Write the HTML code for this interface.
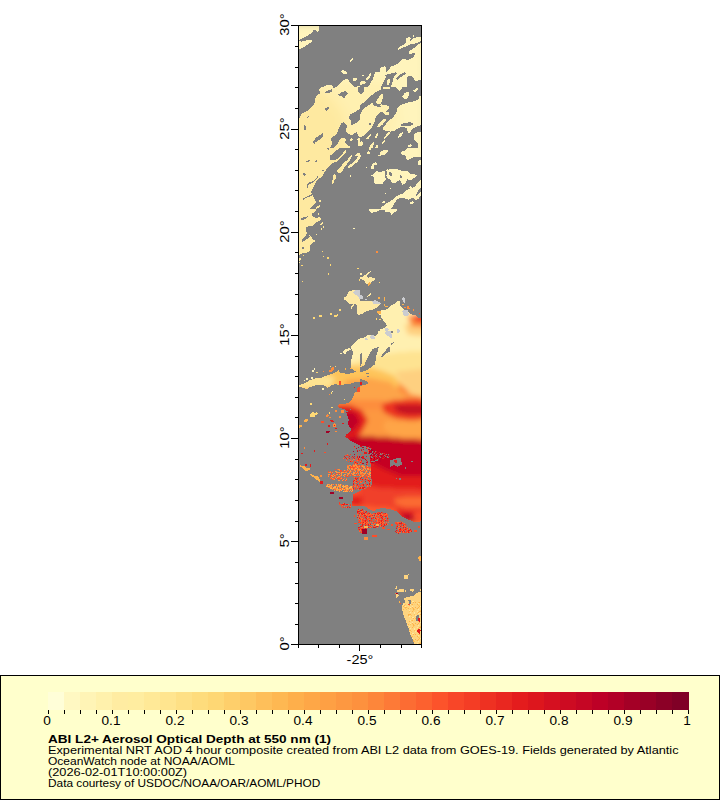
<!DOCTYPE html>
<html><head><meta charset="utf-8"><style>
*{margin:0;padding:0;box-sizing:border-box}
html,body{width:720px;height:800px;background:#fff;overflow:hidden}
body{position:relative;font-family:"Liberation Sans",sans-serif;color:#000}

.a{position:absolute;white-space:nowrap}
.lab{position:absolute;font-size:12.5px;line-height:1;white-space:nowrap}
.rot{position:absolute;width:40px;height:13px;font-size:12.5px;line-height:13px;text-align:center;white-space:nowrap;transform-origin:50% 50%;transform:rotate(-90deg) scaleX(1.18)}
#legend{position:absolute;left:0;top:675px;width:720px;height:125px;background:#ffffcc;border:1px solid #000}
.t{position:absolute;left:48px;font-size:11px;line-height:11px;white-space:nowrap;transform-origin:0 0}
</style></head><body>

<svg class="a" style="left:0;top:0" width="720" height="670" viewBox="0 0 720 670" shape-rendering="crispEdges">
<rect x="299" y="26" width="122" height="618" fill="#808080"/>
<defs><clipPath id="dc"><rect x="299" y="26" width="122" height="618"/></clipPath><filter id="bl" x="-5%" y="-5%" width="110%" height="110%"><feGaussianBlur stdDeviation="2.5"/></filter><pattern id="pf" patternUnits="userSpaceOnUse" x="0" y="0" width="720" height="800"><g filter="url(#bl)"><polygon fill="#fd8d3c" points="290,270 430,270 430,560 290,560"/><polygon fill="#fff0b0" points="290,270 430,270 430,350 400,352 380,355 360,360 345,366 290,372"/><polygon fill="#fee391" points="345,366 360,360 380,355 400,352 430,350 430,396 410,392 395,378 380,372 365,370 350,372"/><polygon fill="#fed080" points="395,372 430,368 430,398 410,394"/><polygon fill="#fec45a" points="290,372 345,366 365,366 380,370 395,376 400,386 390,392 370,392 350,392 340,390 290,392"/><polygon fill="#fee391" points="290,374 320,373 335,378 330,388 290,390"/><polygon fill="#fda448" points="345,380 370,378 390,382 400,392 410,398 430,400 430,405 400,403 380,400 360,400 345,398"/><polygon fill="#fed080" points="404,324 430,322 430,337 408,335"/><polygon fill="#fd8d3c" points="407,316 430,312 430,328 412,327"/><polygon fill="#f0402a" points="413,315 430,313 430,323 416,322"/><polygon fill="#fd9841" points="290,410 430,410 430,438 290,438"/><polygon fill="#ec3423" points="382,404 395,400 410,399 430,400 430,419 408,420 395,418 383,412"/><polygon fill="#c20a24" points="394,406 403,404.5 413,405 430,406 430,413.5 410,414.5 401,413 395,410"/><polygon fill="#fea547" points="385,421 405,422 430,421 430,436 405,437 390,434 383,428"/><polygon fill="#e31a1c" points="335,405 350,405 362,410 368,420 362,432 352,442 340,445 332,440"/><polygon fill="#c00526" points="343,412 355,412 360,422 352,432 345,430"/><polygon fill="#c50624" points="345,437 365,436 385,437 405,439 430,440 430,476 400,476 385,470 370,462 360,455 345,447"/><polygon fill="#e31a1c" points="345,447 360,455 370,462 385,470 400,476 430,476 430,490 400,490 380,488 360,484 340,480 330,470"/><polygon fill="#f0402a" points="330,478 360,484 380,488 430,490 430,512 400,512 380,510 360,508 340,505 330,500"/><polygon fill="#fc6c33" points="395,498 410,497 430,497 430,507 405,507 395,504"/><polygon fill="#e31a1c" points="395,510 430,512 430,523 410,523 398,518"/><polygon fill="#bd0026" points="405,515 415,515 416,521 407,521"/><polygon fill="#fc5b2d" points="350,505 395,508 400,520 395,545 350,545"/><polygon fill="#fd9841" points="290,440 345,440 345,520 290,520"/><polygon fill="#f04028" points="340,453 360,453 360,470 340,470"/><polygon fill="#fc6c33" points="343,470 360,470 360,488 343,488"/><polygon fill="#fc4e2a" points="345,486 360,486 360,497 345,497"/><polygon fill="#e31a1c" points="350,496 362,496 362,506 350,506"/><polygon fill="#fc5b2d" points="360,512 392,512 392,535 360,535"/><polygon fill="#bd0026" points="402,514 416,514 416,522 402,522"/><polygon fill="#fc4e2a" points="414,512 430,512 430,521 414,521"/><polygon fill="#fc6c33" points="393,522 415,522 415,536 393,536"/></g></pattern><filter id="bl2" x="-5%" y="-5%" width="110%" height="110%"><feGaussianBlur stdDeviation="6"/></filter><pattern id="yf" patternUnits="userSpaceOnUse" x="0" y="0" width="720" height="800"><g filter="url(#bl2)"><polygon fill="#fff4bc" points="280,20 430,20 430,650 280,650"/><polygon fill="#fff0b0" points="330,80 390,80 400,120 380,160 330,170"/><polygon fill="#fee9a0" points="280,90 325,88 345,115 348,170 338,220 328,270 280,290"/><polygon fill="#fee9a4" points="330,270 430,270 430,350 330,350"/></g></pattern><pattern id="sp_w1_35" patternUnits="userSpaceOnUse" x="0" y="0" width="16" height="16"><path fill="#fec45a" d="M5 0h1v1h-1zM9 0h1v1h-1zM0 1h1v1h-1zM2 1h1v1h-1zM6 1h1v1h-1zM2 3h1v1h-1zM3 3h1v1h-1zM8 3h1v1h-1zM11 3h1v1h-1zM0 4h1v1h-1zM3 4h1v1h-1zM11 4h1v1h-1zM3 5h1v1h-1zM7 5h1v1h-1zM15 5h1v1h-1zM2 7h1v1h-1zM8 7h1v1h-1zM7 8h1v1h-1zM15 8h1v1h-1zM5 9h1v1h-1zM4 10h1v1h-1zM6 11h1v1h-1zM12 11h1v1h-1zM5 12h1v1h-1zM4 15h1v1h-1z"/><path fill="#fed06e" d="M7 0h1v1h-1zM7 1h1v1h-1zM14 2h1v1h-1zM15 3h1v1h-1zM15 4h1v1h-1zM2 5h1v1h-1zM12 5h1v1h-1zM3 6h1v1h-1zM10 6h1v1h-1zM6 9h1v1h-1zM13 9h1v1h-1zM7 11h1v1h-1zM15 11h1v1h-1zM7 12h1v1h-1zM11 12h1v1h-1zM8 13h1v1h-1zM11 13h1v1h-1zM12 13h1v1h-1zM0 15h1v1h-1zM7 15h1v1h-1z"/><path fill="#feb24c" d="M10 0h1v1h-1zM15 0h1v1h-1zM12 2h1v1h-1zM1 3h1v1h-1zM4 3h1v1h-1zM5 4h1v1h-1zM12 4h1v1h-1zM5 6h1v1h-1zM13 6h1v1h-1zM12 8h1v1h-1zM0 9h1v1h-1zM2 9h1v1h-1zM13 10h1v1h-1zM14 10h1v1h-1zM14 12h1v1h-1zM4 13h1v1h-1zM13 13h1v1h-1zM6 15h1v1h-1z"/><path fill="#ffe9a0" d="M12 0h1v1h-1zM8 1h1v1h-1zM1 2h1v1h-1zM4 2h1v1h-1zM6 2h1v1h-1zM7 2h1v1h-1zM11 2h1v1h-1zM1 7h1v1h-1zM5 10h1v1h-1zM10 10h1v1h-1zM4 11h1v1h-1zM10 11h1v1h-1zM3 12h1v1h-1zM5 14h1v1h-1zM15 14h1v1h-1zM15 15h1v1h-1z"/><path fill="#fdb24a" d="M1 1h1v1h-1zM3 1h1v1h-1zM6 4h1v1h-1zM9 4h1v1h-1zM0 5h1v1h-1zM6 5h1v1h-1zM11 5h1v1h-1zM4 6h1v1h-1zM8 6h1v1h-1zM12 7h1v1h-1zM12 10h1v1h-1zM9 11h1v1h-1zM0 14h1v1h-1zM3 14h1v1h-1zM2 15h1v1h-1zM5 15h1v1h-1z"/></pattern><pattern id="sp_w1_30" patternUnits="userSpaceOnUse" x="0" y="0" width="16" height="16"><path fill="#fed06e" d="M0 0h1v1h-1zM12 0h1v1h-1zM7 1h1v1h-1zM6 2h1v1h-1zM14 7h1v1h-1zM1 8h1v1h-1zM14 9h1v1h-1zM1 11h1v1h-1zM14 12h1v1h-1zM3 13h1v1h-1z"/><path fill="#feb24c" d="M1 0h1v1h-1zM7 0h1v1h-1zM8 0h1v1h-1zM13 1h1v1h-1zM3 3h1v1h-1zM4 3h1v1h-1zM7 3h1v1h-1zM12 3h1v1h-1zM2 4h1v1h-1zM7 4h1v1h-1zM4 6h1v1h-1zM10 6h1v1h-1zM5 9h1v1h-1zM15 10h1v1h-1zM1 12h1v1h-1zM12 12h1v1h-1zM9 13h1v1h-1zM2 15h1v1h-1zM6 15h1v1h-1zM12 15h1v1h-1z"/><path fill="#fdb24a" d="M6 0h1v1h-1zM13 0h1v1h-1zM8 6h1v1h-1zM9 6h1v1h-1zM8 7h1v1h-1zM3 10h1v1h-1zM13 10h1v1h-1zM3 14h1v1h-1zM15 15h1v1h-1z"/><path fill="#fec45a" d="M10 0h1v1h-1zM14 1h1v1h-1zM4 2h1v1h-1zM7 2h1v1h-1zM13 2h1v1h-1zM9 3h1v1h-1zM1 5h1v1h-1zM14 6h1v1h-1zM11 7h1v1h-1zM11 9h1v1h-1zM2 10h1v1h-1zM6 12h1v1h-1zM7 12h1v1h-1zM11 12h1v1h-1zM2 13h1v1h-1zM5 14h1v1h-1z"/><path fill="#ffe9a0" d="M2 1h1v1h-1zM9 2h1v1h-1zM1 3h1v1h-1zM10 4h1v1h-1zM14 4h1v1h-1zM2 5h1v1h-1zM3 5h1v1h-1zM7 5h1v1h-1zM14 5h1v1h-1zM15 7h1v1h-1zM9 8h1v1h-1zM12 9h1v1h-1zM13 9h1v1h-1zM7 10h1v1h-1zM2 11h1v1h-1zM10 12h1v1h-1zM4 14h1v1h-1zM12 14h1v1h-1zM10 15h1v1h-1z"/></pattern><pattern id="sp_d1_70" patternUnits="userSpaceOnUse" x="0" y="0" width="16" height="16"><path fill="#e31a1c" d="M3 0h1v1h-1zM4 0h1v1h-1zM9 0h1v1h-1zM7 1h1v1h-1zM14 1h1v1h-1zM1 2h1v1h-1zM7 2h1v1h-1zM13 2h1v1h-1zM5 3h1v1h-1zM8 3h1v1h-1zM9 3h1v1h-1zM14 3h1v1h-1zM6 4h1v1h-1zM7 4h1v1h-1zM11 4h1v1h-1zM0 5h1v1h-1zM9 5h1v1h-1zM13 5h1v1h-1zM15 5h1v1h-1zM1 6h1v1h-1zM11 6h1v1h-1zM14 6h1v1h-1zM1 7h1v1h-1zM4 7h1v1h-1zM9 7h1v1h-1zM2 8h1v1h-1zM5 8h1v1h-1zM6 8h1v1h-1zM7 8h1v1h-1zM12 8h1v1h-1zM15 8h1v1h-1zM0 9h1v1h-1zM7 9h1v1h-1zM9 9h1v1h-1zM4 10h1v1h-1zM5 10h1v1h-1zM7 10h1v1h-1zM10 10h1v1h-1zM14 10h1v1h-1zM15 10h1v1h-1zM2 11h1v1h-1zM4 11h1v1h-1zM8 11h1v1h-1zM10 11h1v1h-1zM14 11h1v1h-1zM15 11h1v1h-1zM4 12h1v1h-1zM1 13h1v1h-1zM2 13h1v1h-1zM8 13h1v1h-1zM14 13h1v1h-1zM1 14h1v1h-1zM5 14h1v1h-1zM6 14h1v1h-1zM7 14h1v1h-1zM8 14h1v1h-1zM0 15h1v1h-1zM15 15h1v1h-1z"/><path fill="#c50624" d="M5 0h1v1h-1zM10 0h1v1h-1zM15 0h1v1h-1zM1 1h1v1h-1zM9 1h1v1h-1zM2 2h1v1h-1zM9 2h1v1h-1zM10 2h1v1h-1zM12 2h1v1h-1zM14 2h1v1h-1zM2 3h1v1h-1zM12 3h1v1h-1zM10 4h1v1h-1zM15 4h1v1h-1zM1 5h1v1h-1zM7 5h1v1h-1zM10 5h1v1h-1zM0 6h1v1h-1zM5 6h1v1h-1zM8 7h1v1h-1zM11 7h1v1h-1zM12 7h1v1h-1zM4 8h1v1h-1zM10 8h1v1h-1zM2 9h1v1h-1zM5 9h1v1h-1zM8 9h1v1h-1zM11 9h1v1h-1zM13 9h1v1h-1zM14 9h1v1h-1zM15 9h1v1h-1zM1 10h1v1h-1zM8 10h1v1h-1zM0 11h1v1h-1zM3 11h1v1h-1zM6 11h1v1h-1zM7 11h1v1h-1zM13 11h1v1h-1zM0 12h1v1h-1zM2 12h1v1h-1zM3 12h1v1h-1zM5 12h1v1h-1zM0 14h1v1h-1zM2 14h1v1h-1zM12 14h1v1h-1zM13 14h1v1h-1zM1 15h1v1h-1zM2 15h1v1h-1zM10 15h1v1h-1zM13 15h1v1h-1zM14 15h1v1h-1z"/><path fill="#bd0026" d="M8 0h1v1h-1zM13 0h1v1h-1zM4 1h1v1h-1zM10 1h1v1h-1zM13 1h1v1h-1zM5 2h1v1h-1zM8 2h1v1h-1zM0 3h1v1h-1zM13 3h1v1h-1zM3 4h1v1h-1zM5 4h1v1h-1zM8 4h1v1h-1zM9 4h1v1h-1zM5 5h1v1h-1zM8 5h1v1h-1zM3 6h1v1h-1zM6 6h1v1h-1zM7 6h1v1h-1zM10 6h1v1h-1zM5 7h1v1h-1zM6 7h1v1h-1zM10 7h1v1h-1zM13 7h1v1h-1zM14 7h1v1h-1zM15 7h1v1h-1zM9 8h1v1h-1zM14 8h1v1h-1zM10 9h1v1h-1zM0 10h1v1h-1zM2 10h1v1h-1zM13 10h1v1h-1zM5 11h1v1h-1zM11 11h1v1h-1zM12 11h1v1h-1zM1 12h1v1h-1zM10 12h1v1h-1zM14 12h1v1h-1zM7 13h1v1h-1zM9 13h1v1h-1zM13 13h1v1h-1zM3 14h1v1h-1zM14 14h1v1h-1zM9 15h1v1h-1z"/><path fill="#a50026" d="M12 0h1v1h-1zM14 0h1v1h-1zM3 1h1v1h-1zM5 1h1v1h-1zM6 1h1v1h-1zM8 1h1v1h-1zM12 1h1v1h-1zM0 2h1v1h-1zM3 2h1v1h-1zM4 2h1v1h-1zM1 3h1v1h-1zM3 3h1v1h-1zM6 3h1v1h-1zM10 3h1v1h-1zM0 4h1v1h-1zM1 4h1v1h-1zM2 4h1v1h-1zM12 4h1v1h-1zM13 4h1v1h-1zM14 4h1v1h-1zM4 5h1v1h-1zM11 5h1v1h-1zM9 6h1v1h-1zM15 6h1v1h-1zM2 7h1v1h-1zM3 7h1v1h-1zM0 8h1v1h-1zM13 8h1v1h-1zM1 9h1v1h-1zM6 9h1v1h-1zM3 10h1v1h-1zM6 10h1v1h-1zM9 10h1v1h-1zM12 10h1v1h-1zM6 12h1v1h-1zM13 12h1v1h-1zM0 13h1v1h-1zM11 13h1v1h-1zM15 13h1v1h-1zM4 14h1v1h-1zM3 15h1v1h-1zM7 15h1v1h-1zM12 15h1v1h-1z"/></pattern><pattern id="sp_R2_22" patternUnits="userSpaceOnUse" x="0" y="0" width="16" height="16"><path fill="#bd0026" d="M4 0h1v1h-1zM0 1h1v1h-1zM1 3h1v1h-1zM5 3h1v1h-1zM2 6h1v1h-1zM7 8h1v1h-1zM7 9h1v1h-1zM9 9h1v1h-1zM3 10h1v1h-1zM13 11h1v1h-1zM2 12h1v1h-1zM9 13h1v1h-1zM14 14h1v1h-1zM6 15h1v1h-1zM10 15h1v1h-1zM11 15h1v1h-1z"/><path fill="#d01020" d="M14 0h1v1h-1zM11 1h1v1h-1zM9 2h1v1h-1zM12 5h1v1h-1zM2 9h1v1h-1zM14 12h1v1h-1zM9 14h1v1h-1zM15 14h1v1h-1z"/><path fill="#fc4e2a" d="M15 0h1v1h-1zM0 2h1v1h-1zM0 3h1v1h-1zM10 3h1v1h-1zM12 3h1v1h-1zM5 5h1v1h-1zM8 6h1v1h-1zM11 6h1v1h-1zM5 7h1v1h-1zM1 8h1v1h-1zM4 10h1v1h-1zM2 11h1v1h-1zM5 11h1v1h-1zM8 11h1v1h-1zM15 11h1v1h-1zM2 15h1v1h-1zM15 15h1v1h-1z"/><path fill="#e31a1c" d="M9 1h1v1h-1zM5 2h1v1h-1zM7 2h1v1h-1zM0 5h1v1h-1zM5 8h1v1h-1zM14 8h1v1h-1zM5 9h1v1h-1zM12 10h1v1h-1zM6 11h1v1h-1zM8 13h1v1h-1zM15 13h1v1h-1zM2 14h1v1h-1zM8 14h1v1h-1z"/></pattern><pattern id="sp_r1_45" patternUnits="userSpaceOnUse" x="0" y="0" width="16" height="16"><path fill="#e31a1c" d="M5 0h1v1h-1zM0 1h1v1h-1zM2 2h1v1h-1zM3 3h1v1h-1zM8 3h1v1h-1zM5 4h1v1h-1zM8 4h1v1h-1zM9 4h1v1h-1zM15 5h1v1h-1zM5 6h1v1h-1zM2 7h1v1h-1zM3 7h1v1h-1zM0 8h1v1h-1zM2 8h1v1h-1zM8 8h1v1h-1zM13 8h1v1h-1zM1 9h1v1h-1zM5 9h1v1h-1zM9 9h1v1h-1zM2 10h1v1h-1zM6 10h1v1h-1zM10 10h1v1h-1zM13 10h1v1h-1zM9 12h1v1h-1zM14 13h1v1h-1zM3 14h1v1h-1zM5 15h1v1h-1z"/><path fill="#f0402a" d="M6 0h1v1h-1zM4 1h1v1h-1zM5 1h1v1h-1zM0 3h1v1h-1zM1 3h1v1h-1zM6 3h1v1h-1zM3 4h1v1h-1zM4 4h1v1h-1zM1 5h1v1h-1zM2 5h1v1h-1zM5 5h1v1h-1zM8 5h1v1h-1zM10 5h1v1h-1zM2 6h1v1h-1zM14 6h1v1h-1zM10 7h1v1h-1zM11 7h1v1h-1zM12 7h1v1h-1zM12 9h1v1h-1zM15 9h1v1h-1zM0 10h1v1h-1zM8 10h1v1h-1zM7 11h1v1h-1zM8 11h1v1h-1zM11 11h1v1h-1zM7 12h1v1h-1zM6 13h1v1h-1zM9 13h1v1h-1zM4 14h1v1h-1zM9 14h1v1h-1zM2 15h1v1h-1zM14 15h1v1h-1z"/><path fill="#fd6b33" d="M8 0h1v1h-1zM13 0h1v1h-1zM1 2h1v1h-1zM5 2h1v1h-1zM9 3h1v1h-1zM13 3h1v1h-1zM13 5h1v1h-1zM6 6h1v1h-1zM11 6h1v1h-1zM1 7h1v1h-1zM5 8h1v1h-1zM7 10h1v1h-1zM11 10h1v1h-1zM1 11h1v1h-1zM2 11h1v1h-1zM0 12h1v1h-1zM5 12h1v1h-1zM10 12h1v1h-1zM14 12h1v1h-1zM8 13h1v1h-1zM10 14h1v1h-1zM13 14h1v1h-1zM3 15h1v1h-1zM6 15h1v1h-1zM8 15h1v1h-1z"/><path fill="#fc4e2a" d="M12 0h1v1h-1zM11 1h1v1h-1zM15 1h1v1h-1zM9 2h1v1h-1zM12 2h1v1h-1zM15 2h1v1h-1zM4 3h1v1h-1zM15 3h1v1h-1zM7 4h1v1h-1zM13 4h1v1h-1zM14 4h1v1h-1zM11 5h1v1h-1zM0 6h1v1h-1zM6 7h1v1h-1zM9 7h1v1h-1zM6 8h1v1h-1zM4 9h1v1h-1zM14 11h1v1h-1zM4 12h1v1h-1zM6 12h1v1h-1zM0 13h1v1h-1zM2 13h1v1h-1zM3 13h1v1h-1zM12 13h1v1h-1zM15 13h1v1h-1zM2 14h1v1h-1zM7 14h1v1h-1zM4 15h1v1h-1zM11 15h1v1h-1z"/></pattern><pattern id="sp_o1_75" patternUnits="userSpaceOnUse" x="0" y="0" width="16" height="16"><path fill="#fc4e2a" d="M0 0h1v1h-1zM7 0h1v1h-1zM8 0h1v1h-1zM15 0h1v1h-1zM0 1h1v1h-1zM5 1h1v1h-1zM6 1h1v1h-1zM0 2h1v1h-1zM3 2h1v1h-1zM8 2h1v1h-1zM14 2h1v1h-1zM0 3h1v1h-1zM1 3h1v1h-1zM2 3h1v1h-1zM7 3h1v1h-1zM9 3h1v1h-1zM14 3h1v1h-1zM15 3h1v1h-1zM1 4h1v1h-1zM14 4h1v1h-1zM4 5h1v1h-1zM0 6h1v1h-1zM8 6h1v1h-1zM9 7h1v1h-1zM11 7h1v1h-1zM4 8h1v1h-1zM6 8h1v1h-1zM3 9h1v1h-1zM5 10h1v1h-1zM14 10h1v1h-1zM0 11h1v1h-1zM4 11h1v1h-1zM6 11h1v1h-1zM13 11h1v1h-1zM7 12h1v1h-1zM11 12h1v1h-1zM12 12h1v1h-1zM14 12h1v1h-1zM4 13h1v1h-1zM6 13h1v1h-1zM13 14h1v1h-1zM14 14h1v1h-1zM0 15h1v1h-1zM2 15h1v1h-1zM7 15h1v1h-1zM11 15h1v1h-1zM14 15h1v1h-1z"/><path fill="#fc6c33" d="M1 0h1v1h-1zM4 0h1v1h-1zM5 0h1v1h-1zM14 0h1v1h-1zM7 1h1v1h-1zM9 1h1v1h-1zM11 1h1v1h-1zM12 1h1v1h-1zM6 2h1v1h-1zM9 2h1v1h-1zM3 3h1v1h-1zM4 3h1v1h-1zM6 3h1v1h-1zM2 4h1v1h-1zM7 4h1v1h-1zM9 4h1v1h-1zM11 4h1v1h-1zM1 5h1v1h-1zM3 5h1v1h-1zM10 5h1v1h-1zM3 6h1v1h-1zM5 6h1v1h-1zM11 6h1v1h-1zM12 6h1v1h-1zM1 7h1v1h-1zM5 7h1v1h-1zM6 7h1v1h-1zM13 7h1v1h-1zM15 7h1v1h-1zM3 8h1v1h-1zM14 8h1v1h-1zM0 9h1v1h-1zM10 9h1v1h-1zM6 10h1v1h-1zM8 10h1v1h-1zM9 10h1v1h-1zM10 10h1v1h-1zM11 10h1v1h-1zM1 11h1v1h-1zM5 11h1v1h-1zM9 11h1v1h-1zM14 11h1v1h-1zM1 12h1v1h-1zM3 12h1v1h-1zM9 12h1v1h-1zM15 12h1v1h-1zM1 13h1v1h-1zM9 13h1v1h-1zM2 14h1v1h-1zM8 14h1v1h-1zM3 15h1v1h-1zM9 15h1v1h-1zM10 15h1v1h-1zM13 15h1v1h-1z"/><path fill="#fd9841" d="M3 0h1v1h-1zM10 0h1v1h-1zM12 0h1v1h-1zM13 0h1v1h-1zM1 1h1v1h-1zM4 1h1v1h-1zM13 1h1v1h-1zM10 2h1v1h-1zM5 3h1v1h-1zM3 4h1v1h-1zM4 4h1v1h-1zM15 4h1v1h-1zM0 5h1v1h-1zM6 5h1v1h-1zM7 5h1v1h-1zM8 5h1v1h-1zM11 5h1v1h-1zM14 6h1v1h-1zM8 7h1v1h-1zM14 7h1v1h-1zM1 8h1v1h-1zM10 8h1v1h-1zM1 9h1v1h-1zM2 9h1v1h-1zM4 9h1v1h-1zM12 9h1v1h-1zM13 9h1v1h-1zM1 10h1v1h-1zM2 11h1v1h-1zM10 11h1v1h-1zM11 11h1v1h-1zM0 12h1v1h-1zM4 12h1v1h-1zM5 13h1v1h-1zM8 13h1v1h-1zM12 13h1v1h-1zM13 13h1v1h-1zM1 14h1v1h-1zM3 14h1v1h-1zM9 14h1v1h-1zM10 14h1v1h-1zM12 14h1v1h-1zM15 14h1v1h-1z"/><path fill="#fd8d3c" d="M11 0h1v1h-1zM2 1h1v1h-1zM3 1h1v1h-1zM10 1h1v1h-1zM14 1h1v1h-1zM1 2h1v1h-1zM2 2h1v1h-1zM4 2h1v1h-1zM5 2h1v1h-1zM7 2h1v1h-1zM11 2h1v1h-1zM12 2h1v1h-1zM15 2h1v1h-1zM11 3h1v1h-1zM12 3h1v1h-1zM0 4h1v1h-1zM6 4h1v1h-1zM12 4h1v1h-1zM13 4h1v1h-1zM2 5h1v1h-1zM5 5h1v1h-1zM13 5h1v1h-1zM15 5h1v1h-1zM2 6h1v1h-1zM6 6h1v1h-1zM7 6h1v1h-1zM9 6h1v1h-1zM10 6h1v1h-1zM3 7h1v1h-1zM2 8h1v1h-1zM5 8h1v1h-1zM8 8h1v1h-1zM9 8h1v1h-1zM13 8h1v1h-1zM6 9h1v1h-1zM8 9h1v1h-1zM9 9h1v1h-1zM11 9h1v1h-1zM15 9h1v1h-1zM0 10h1v1h-1zM12 10h1v1h-1zM3 11h1v1h-1zM7 11h1v1h-1zM5 12h1v1h-1zM8 12h1v1h-1zM10 12h1v1h-1zM2 13h1v1h-1zM3 13h1v1h-1zM14 13h1v1h-1zM6 14h1v1h-1zM1 15h1v1h-1zM6 15h1v1h-1zM12 15h1v1h-1zM15 15h1v1h-1z"/></pattern><pattern id="sp_o1_55" patternUnits="userSpaceOnUse" x="0" y="0" width="16" height="16"><path fill="#fc6c33" d="M0 0h1v1h-1zM13 0h1v1h-1zM3 1h1v1h-1zM6 1h1v1h-1zM11 1h1v1h-1zM14 1h1v1h-1zM1 2h1v1h-1zM7 3h1v1h-1zM8 3h1v1h-1zM13 4h1v1h-1zM14 4h1v1h-1zM1 5h1v1h-1zM9 6h1v1h-1zM10 7h1v1h-1zM8 8h1v1h-1zM4 9h1v1h-1zM14 9h1v1h-1zM4 11h1v1h-1zM8 11h1v1h-1zM15 11h1v1h-1zM4 12h1v1h-1zM15 12h1v1h-1zM2 13h1v1h-1zM3 13h1v1h-1zM5 13h1v1h-1zM4 14h1v1h-1zM8 14h1v1h-1zM10 14h1v1h-1zM13 14h1v1h-1zM13 15h1v1h-1z"/><path fill="#fd9841" d="M1 0h1v1h-1zM2 0h1v1h-1zM3 0h1v1h-1zM6 0h1v1h-1zM2 1h1v1h-1zM4 1h1v1h-1zM9 1h1v1h-1zM2 2h1v1h-1zM14 2h1v1h-1zM0 3h1v1h-1zM4 3h1v1h-1zM14 3h1v1h-1zM15 3h1v1h-1zM2 4h1v1h-1zM15 4h1v1h-1zM12 5h1v1h-1zM13 5h1v1h-1zM8 6h1v1h-1zM15 7h1v1h-1zM0 8h1v1h-1zM1 8h1v1h-1zM3 8h1v1h-1zM5 8h1v1h-1zM6 8h1v1h-1zM5 9h1v1h-1zM1 10h1v1h-1zM3 10h1v1h-1zM5 10h1v1h-1zM8 10h1v1h-1zM9 10h1v1h-1zM13 10h1v1h-1zM5 11h1v1h-1zM7 11h1v1h-1zM12 11h1v1h-1zM14 11h1v1h-1zM3 12h1v1h-1zM13 12h1v1h-1zM1 13h1v1h-1zM12 14h1v1h-1zM7 15h1v1h-1zM10 15h1v1h-1zM14 15h1v1h-1z"/><path fill="#fc4e2a" d="M7 0h1v1h-1zM10 0h1v1h-1zM13 1h1v1h-1zM5 2h1v1h-1zM8 2h1v1h-1zM12 2h1v1h-1zM2 3h1v1h-1zM5 3h1v1h-1zM10 3h1v1h-1zM4 4h1v1h-1zM6 5h1v1h-1zM7 5h1v1h-1zM15 5h1v1h-1zM4 6h1v1h-1zM5 6h1v1h-1zM4 7h1v1h-1zM5 7h1v1h-1zM7 7h1v1h-1zM8 7h1v1h-1zM13 7h1v1h-1zM11 8h1v1h-1zM0 9h1v1h-1zM2 9h1v1h-1zM3 9h1v1h-1zM11 9h1v1h-1zM11 10h1v1h-1zM15 10h1v1h-1zM10 11h1v1h-1zM13 11h1v1h-1zM0 12h1v1h-1zM10 12h1v1h-1zM11 12h1v1h-1zM14 13h1v1h-1zM1 14h1v1h-1zM2 14h1v1h-1zM3 14h1v1h-1zM6 14h1v1h-1zM11 14h1v1h-1zM14 14h1v1h-1zM2 15h1v1h-1zM4 15h1v1h-1zM12 15h1v1h-1z"/><path fill="#fd8d3c" d="M9 0h1v1h-1zM12 0h1v1h-1zM15 0h1v1h-1zM1 1h1v1h-1zM10 1h1v1h-1zM12 1h1v1h-1zM9 3h1v1h-1zM0 4h1v1h-1zM1 4h1v1h-1zM3 4h1v1h-1zM6 4h1v1h-1zM7 4h1v1h-1zM2 5h1v1h-1zM3 5h1v1h-1zM5 5h1v1h-1zM10 5h1v1h-1zM3 6h1v1h-1zM0 7h1v1h-1zM2 8h1v1h-1zM7 8h1v1h-1zM9 8h1v1h-1zM10 8h1v1h-1zM12 8h1v1h-1zM0 10h1v1h-1zM11 11h1v1h-1zM2 12h1v1h-1zM8 12h1v1h-1zM12 12h1v1h-1zM11 13h1v1h-1zM15 13h1v1h-1zM0 14h1v1h-1zM5 14h1v1h-1z"/></pattern><pattern id="sp_l1_80" patternUnits="userSpaceOnUse" x="0" y="0" width="16" height="16"><path fill="#fd8d3c" d="M0 0h1v1h-1zM1 0h1v1h-1zM2 0h1v1h-1zM4 0h1v1h-1zM5 0h1v1h-1zM3 1h1v1h-1zM8 1h1v1h-1zM13 1h1v1h-1zM14 1h1v1h-1zM15 1h1v1h-1zM1 2h1v1h-1zM8 2h1v1h-1zM10 2h1v1h-1zM2 3h1v1h-1zM3 3h1v1h-1zM4 3h1v1h-1zM7 3h1v1h-1zM12 3h1v1h-1zM14 3h1v1h-1zM9 4h1v1h-1zM13 4h1v1h-1zM2 5h1v1h-1zM9 5h1v1h-1zM1 6h1v1h-1zM4 6h1v1h-1zM10 6h1v1h-1zM11 6h1v1h-1zM3 7h1v1h-1zM9 7h1v1h-1zM0 8h1v1h-1zM9 8h1v1h-1zM12 8h1v1h-1zM14 8h1v1h-1zM15 8h1v1h-1zM7 9h1v1h-1zM12 9h1v1h-1zM8 11h1v1h-1zM13 11h1v1h-1zM13 12h1v1h-1zM14 12h1v1h-1zM7 13h1v1h-1zM0 14h1v1h-1zM4 14h1v1h-1zM6 14h1v1h-1zM8 14h1v1h-1zM14 14h1v1h-1zM4 15h1v1h-1zM12 15h1v1h-1zM15 15h1v1h-1z"/><path fill="#fea044" d="M3 0h1v1h-1zM6 0h1v1h-1zM10 0h1v1h-1zM2 1h1v1h-1zM5 1h1v1h-1zM6 1h1v1h-1zM7 1h1v1h-1zM8 3h1v1h-1zM13 3h1v1h-1zM0 4h1v1h-1zM2 4h1v1h-1zM7 4h1v1h-1zM8 4h1v1h-1zM0 5h1v1h-1zM3 5h1v1h-1zM10 5h1v1h-1zM2 6h1v1h-1zM3 6h1v1h-1zM14 6h1v1h-1zM1 7h1v1h-1zM4 7h1v1h-1zM10 7h1v1h-1zM11 7h1v1h-1zM0 9h1v1h-1zM1 9h1v1h-1zM2 9h1v1h-1zM3 9h1v1h-1zM10 9h1v1h-1zM11 9h1v1h-1zM1 10h1v1h-1zM3 10h1v1h-1zM10 10h1v1h-1zM14 10h1v1h-1zM10 11h1v1h-1zM11 11h1v1h-1zM15 11h1v1h-1zM2 12h1v1h-1zM3 12h1v1h-1zM12 12h1v1h-1zM3 13h1v1h-1zM4 13h1v1h-1zM5 13h1v1h-1zM9 13h1v1h-1zM2 14h1v1h-1zM9 14h1v1h-1zM10 14h1v1h-1zM12 14h1v1h-1zM0 15h1v1h-1zM2 15h1v1h-1zM13 15h1v1h-1z"/><path fill="#feb24c" d="M8 0h1v1h-1zM9 0h1v1h-1zM12 0h1v1h-1zM14 0h1v1h-1zM15 0h1v1h-1zM4 1h1v1h-1zM12 1h1v1h-1zM2 2h1v1h-1zM4 2h1v1h-1zM5 2h1v1h-1zM9 2h1v1h-1zM0 3h1v1h-1zM10 3h1v1h-1zM11 3h1v1h-1zM15 3h1v1h-1zM4 4h1v1h-1zM11 4h1v1h-1zM4 5h1v1h-1zM7 5h1v1h-1zM11 5h1v1h-1zM6 6h1v1h-1zM7 6h1v1h-1zM8 6h1v1h-1zM9 6h1v1h-1zM15 6h1v1h-1zM7 7h1v1h-1zM13 7h1v1h-1zM14 7h1v1h-1zM15 7h1v1h-1zM1 8h1v1h-1zM6 8h1v1h-1zM10 8h1v1h-1zM11 8h1v1h-1zM13 8h1v1h-1zM4 9h1v1h-1zM6 9h1v1h-1zM8 9h1v1h-1zM0 10h1v1h-1zM5 10h1v1h-1zM2 11h1v1h-1zM3 11h1v1h-1zM7 11h1v1h-1zM9 11h1v1h-1zM0 12h1v1h-1zM6 12h1v1h-1zM7 12h1v1h-1zM9 12h1v1h-1zM2 13h1v1h-1zM8 13h1v1h-1zM11 13h1v1h-1zM15 13h1v1h-1zM1 14h1v1h-1zM7 15h1v1h-1zM11 15h1v1h-1zM14 15h1v1h-1z"/><path fill="#fc6c33" d="M1 1h1v1h-1zM9 1h1v1h-1zM11 1h1v1h-1zM3 2h1v1h-1zM11 2h1v1h-1zM14 2h1v1h-1zM1 3h1v1h-1zM3 4h1v1h-1zM5 4h1v1h-1zM12 4h1v1h-1zM15 4h1v1h-1zM6 5h1v1h-1zM0 6h1v1h-1zM12 6h1v1h-1zM8 7h1v1h-1zM3 8h1v1h-1zM4 8h1v1h-1zM5 8h1v1h-1zM7 8h1v1h-1zM5 9h1v1h-1zM9 9h1v1h-1zM14 9h1v1h-1zM15 9h1v1h-1zM2 10h1v1h-1zM4 10h1v1h-1zM8 10h1v1h-1zM9 10h1v1h-1zM11 10h1v1h-1zM12 10h1v1h-1zM0 11h1v1h-1zM1 12h1v1h-1zM10 12h1v1h-1zM11 12h1v1h-1zM15 12h1v1h-1zM10 13h1v1h-1zM13 13h1v1h-1zM14 13h1v1h-1zM3 14h1v1h-1zM5 14h1v1h-1zM11 14h1v1h-1zM15 14h1v1h-1zM3 15h1v1h-1zM5 15h1v1h-1zM8 15h1v1h-1zM9 15h1v1h-1zM10 15h1v1h-1z"/></pattern><pattern id="sp_r1_60" patternUnits="userSpaceOnUse" x="0" y="0" width="16" height="16"><path fill="#e31a1c" d="M0 0h1v1h-1zM2 0h1v1h-1zM1 1h1v1h-1zM4 1h1v1h-1zM13 1h1v1h-1zM1 3h1v1h-1zM1 4h1v1h-1zM5 4h1v1h-1zM11 4h1v1h-1zM15 4h1v1h-1zM11 5h1v1h-1zM8 7h1v1h-1zM10 7h1v1h-1zM11 7h1v1h-1zM12 7h1v1h-1zM0 8h1v1h-1zM1 8h1v1h-1zM7 8h1v1h-1zM8 8h1v1h-1zM10 8h1v1h-1zM11 8h1v1h-1zM15 8h1v1h-1zM11 11h1v1h-1zM13 11h1v1h-1zM4 12h1v1h-1zM13 12h1v1h-1zM9 13h1v1h-1zM3 14h1v1h-1zM5 14h1v1h-1zM8 14h1v1h-1zM4 15h1v1h-1zM10 15h1v1h-1zM13 15h1v1h-1z"/><path fill="#f0402a" d="M1 0h1v1h-1zM15 0h1v1h-1zM5 1h1v1h-1zM9 1h1v1h-1zM5 2h1v1h-1zM7 2h1v1h-1zM4 3h1v1h-1zM13 3h1v1h-1zM7 4h1v1h-1zM10 4h1v1h-1zM14 4h1v1h-1zM4 5h1v1h-1zM5 5h1v1h-1zM8 5h1v1h-1zM14 5h1v1h-1zM1 6h1v1h-1zM6 6h1v1h-1zM12 6h1v1h-1zM1 7h1v1h-1zM13 7h1v1h-1zM15 7h1v1h-1zM3 8h1v1h-1zM5 8h1v1h-1zM14 8h1v1h-1zM1 9h1v1h-1zM3 9h1v1h-1zM7 9h1v1h-1zM14 9h1v1h-1zM3 10h1v1h-1zM11 10h1v1h-1zM12 10h1v1h-1zM2 11h1v1h-1zM5 11h1v1h-1zM7 11h1v1h-1zM9 11h1v1h-1zM14 11h1v1h-1zM15 11h1v1h-1zM1 12h1v1h-1zM11 12h1v1h-1zM3 13h1v1h-1zM6 13h1v1h-1zM14 13h1v1h-1zM4 14h1v1h-1zM8 15h1v1h-1z"/><path fill="#fd6b33" d="M3 0h1v1h-1zM2 1h1v1h-1zM8 1h1v1h-1zM3 2h1v1h-1zM4 2h1v1h-1zM8 2h1v1h-1zM9 2h1v1h-1zM12 3h1v1h-1zM3 4h1v1h-1zM3 5h1v1h-1zM15 5h1v1h-1zM2 6h1v1h-1zM3 6h1v1h-1zM5 6h1v1h-1zM15 6h1v1h-1zM5 7h1v1h-1zM9 7h1v1h-1zM12 8h1v1h-1zM6 9h1v1h-1zM1 10h1v1h-1zM8 10h1v1h-1zM14 10h1v1h-1zM4 11h1v1h-1zM10 11h1v1h-1zM2 12h1v1h-1zM5 12h1v1h-1zM6 12h1v1h-1zM7 12h1v1h-1zM12 12h1v1h-1zM15 12h1v1h-1zM2 13h1v1h-1zM7 13h1v1h-1zM8 13h1v1h-1zM7 14h1v1h-1zM12 14h1v1h-1zM14 14h1v1h-1zM15 14h1v1h-1zM0 15h1v1h-1zM2 15h1v1h-1zM7 15h1v1h-1z"/><path fill="#fc4e2a" d="M4 0h1v1h-1zM7 0h1v1h-1zM10 0h1v1h-1zM12 0h1v1h-1zM0 1h1v1h-1zM6 1h1v1h-1zM10 1h1v1h-1zM1 2h1v1h-1zM13 2h1v1h-1zM7 3h1v1h-1zM2 4h1v1h-1zM9 4h1v1h-1zM0 5h1v1h-1zM1 5h1v1h-1zM6 5h1v1h-1zM9 5h1v1h-1zM10 5h1v1h-1zM7 6h1v1h-1zM10 6h1v1h-1zM0 7h1v1h-1zM3 7h1v1h-1zM6 7h1v1h-1zM4 8h1v1h-1zM9 8h1v1h-1zM5 10h1v1h-1zM6 11h1v1h-1zM3 12h1v1h-1zM9 12h1v1h-1zM1 13h1v1h-1zM4 13h1v1h-1zM12 13h1v1h-1zM15 13h1v1h-1zM13 14h1v1h-1zM3 15h1v1h-1zM9 15h1v1h-1zM11 15h1v1h-1zM15 15h1v1h-1z"/></pattern><pattern id="sp_r1_30" patternUnits="userSpaceOnUse" x="0" y="0" width="16" height="16"><path fill="#fd6b33" d="M4 0h1v1h-1zM8 2h1v1h-1zM12 2h1v1h-1zM1 3h1v1h-1zM15 4h1v1h-1zM7 5h1v1h-1zM14 5h1v1h-1zM15 6h1v1h-1zM7 7h1v1h-1zM6 9h1v1h-1zM11 11h1v1h-1zM4 12h1v1h-1zM9 12h1v1h-1zM11 12h1v1h-1zM12 14h1v1h-1zM9 15h1v1h-1z"/><path fill="#f0402a" d="M8 0h1v1h-1zM9 0h1v1h-1zM1 1h1v1h-1zM10 1h1v1h-1zM4 2h1v1h-1zM7 2h1v1h-1zM12 3h1v1h-1zM7 4h1v1h-1zM11 4h1v1h-1zM12 5h1v1h-1zM3 6h1v1h-1zM11 6h1v1h-1zM0 7h1v1h-1zM3 7h1v1h-1zM15 8h1v1h-1zM2 9h1v1h-1zM9 9h1v1h-1zM4 11h1v1h-1zM13 14h1v1h-1zM14 14h1v1h-1zM0 15h1v1h-1zM6 15h1v1h-1zM10 15h1v1h-1z"/><path fill="#fc4e2a" d="M14 0h1v1h-1zM0 3h1v1h-1zM14 3h1v1h-1zM2 4h1v1h-1zM4 4h1v1h-1zM13 5h1v1h-1zM15 5h1v1h-1zM0 6h1v1h-1zM15 7h1v1h-1zM2 8h1v1h-1zM3 8h1v1h-1zM5 9h1v1h-1zM11 9h1v1h-1zM13 9h1v1h-1zM8 11h1v1h-1z"/><path fill="#e31a1c" d="M7 1h1v1h-1zM11 1h1v1h-1zM2 3h1v1h-1zM9 3h1v1h-1zM9 4h1v1h-1zM10 4h1v1h-1zM14 4h1v1h-1zM10 5h1v1h-1zM14 6h1v1h-1zM14 7h1v1h-1zM1 8h1v1h-1zM6 8h1v1h-1zM1 10h1v1h-1zM2 10h1v1h-1zM3 10h1v1h-1zM13 10h1v1h-1zM12 11h1v1h-1zM3 12h1v1h-1zM5 12h1v1h-1zM7 12h1v1h-1zM4 14h1v1h-1zM10 14h1v1h-1z"/></pattern><pattern id="sp_r1_75" patternUnits="userSpaceOnUse" x="0" y="0" width="16" height="16"><path fill="#fc4e2a" d="M0 0h1v1h-1zM9 0h1v1h-1zM5 1h1v1h-1zM0 2h1v1h-1zM3 2h1v1h-1zM7 2h1v1h-1zM15 2h1v1h-1zM1 3h1v1h-1zM3 3h1v1h-1zM9 3h1v1h-1zM15 3h1v1h-1zM9 4h1v1h-1zM10 4h1v1h-1zM11 4h1v1h-1zM13 4h1v1h-1zM3 5h1v1h-1zM10 5h1v1h-1zM12 5h1v1h-1zM0 6h1v1h-1zM8 6h1v1h-1zM0 7h1v1h-1zM11 7h1v1h-1zM4 8h1v1h-1zM6 8h1v1h-1zM7 8h1v1h-1zM15 8h1v1h-1zM10 9h1v1h-1zM11 9h1v1h-1zM12 9h1v1h-1zM5 10h1v1h-1zM7 10h1v1h-1zM9 10h1v1h-1zM13 10h1v1h-1zM1 11h1v1h-1zM15 11h1v1h-1zM14 12h1v1h-1zM15 12h1v1h-1zM9 13h1v1h-1zM14 13h1v1h-1zM5 14h1v1h-1zM1 15h1v1h-1zM13 15h1v1h-1z"/><path fill="#fd6b33" d="M1 0h1v1h-1zM3 0h1v1h-1zM2 1h1v1h-1zM8 1h1v1h-1zM13 1h1v1h-1zM1 2h1v1h-1zM2 2h1v1h-1zM4 2h1v1h-1zM5 2h1v1h-1zM8 2h1v1h-1zM11 2h1v1h-1zM13 2h1v1h-1zM14 2h1v1h-1zM0 3h1v1h-1zM7 3h1v1h-1zM10 3h1v1h-1zM14 3h1v1h-1zM3 4h1v1h-1zM4 4h1v1h-1zM5 4h1v1h-1zM7 4h1v1h-1zM0 5h1v1h-1zM8 5h1v1h-1zM6 6h1v1h-1zM9 6h1v1h-1zM10 6h1v1h-1zM15 6h1v1h-1zM1 7h1v1h-1zM7 7h1v1h-1zM9 7h1v1h-1zM12 7h1v1h-1zM9 8h1v1h-1zM9 9h1v1h-1zM14 9h1v1h-1zM0 10h1v1h-1zM2 10h1v1h-1zM4 10h1v1h-1zM12 10h1v1h-1zM15 10h1v1h-1zM6 11h1v1h-1zM9 11h1v1h-1zM11 11h1v1h-1zM12 11h1v1h-1zM14 11h1v1h-1zM1 12h1v1h-1zM3 12h1v1h-1zM4 12h1v1h-1zM5 12h1v1h-1zM5 13h1v1h-1zM7 13h1v1h-1zM12 13h1v1h-1zM3 14h1v1h-1zM6 14h1v1h-1zM12 14h1v1h-1zM2 15h1v1h-1zM9 15h1v1h-1zM10 15h1v1h-1z"/><path fill="#e31a1c" d="M5 0h1v1h-1zM13 0h1v1h-1zM1 1h1v1h-1zM7 1h1v1h-1zM9 1h1v1h-1zM11 1h1v1h-1zM12 1h1v1h-1zM10 2h1v1h-1zM4 3h1v1h-1zM6 3h1v1h-1zM12 3h1v1h-1zM13 3h1v1h-1zM1 4h1v1h-1zM14 4h1v1h-1zM5 5h1v1h-1zM13 5h1v1h-1zM3 6h1v1h-1zM7 6h1v1h-1zM14 6h1v1h-1zM1 8h1v1h-1zM13 8h1v1h-1zM13 9h1v1h-1zM11 10h1v1h-1zM13 11h1v1h-1zM0 12h1v1h-1zM2 12h1v1h-1zM10 12h1v1h-1zM0 13h1v1h-1zM6 13h1v1h-1zM10 13h1v1h-1zM13 13h1v1h-1zM8 14h1v1h-1zM9 14h1v1h-1zM15 14h1v1h-1zM0 15h1v1h-1zM5 15h1v1h-1zM6 15h1v1h-1zM7 15h1v1h-1zM14 15h1v1h-1z"/><path fill="#f0402a" d="M6 0h1v1h-1zM8 0h1v1h-1zM10 0h1v1h-1zM11 0h1v1h-1zM14 0h1v1h-1zM0 1h1v1h-1zM6 1h1v1h-1zM10 1h1v1h-1zM15 1h1v1h-1zM9 2h1v1h-1zM12 2h1v1h-1zM2 3h1v1h-1zM0 4h1v1h-1zM2 4h1v1h-1zM8 4h1v1h-1zM12 4h1v1h-1zM7 5h1v1h-1zM14 5h1v1h-1zM1 6h1v1h-1zM4 6h1v1h-1zM5 6h1v1h-1zM11 6h1v1h-1zM13 6h1v1h-1zM3 7h1v1h-1zM8 7h1v1h-1zM10 7h1v1h-1zM14 7h1v1h-1zM15 7h1v1h-1zM2 8h1v1h-1zM3 8h1v1h-1zM10 8h1v1h-1zM11 8h1v1h-1zM12 8h1v1h-1zM14 8h1v1h-1zM1 9h1v1h-1zM3 9h1v1h-1zM5 9h1v1h-1zM7 9h1v1h-1zM15 9h1v1h-1zM6 10h1v1h-1zM8 10h1v1h-1zM10 10h1v1h-1zM14 10h1v1h-1zM2 11h1v1h-1zM5 11h1v1h-1zM8 11h1v1h-1zM10 11h1v1h-1zM11 12h1v1h-1zM13 12h1v1h-1zM1 13h1v1h-1zM2 14h1v1h-1zM10 14h1v1h-1zM13 14h1v1h-1zM3 15h1v1h-1zM11 15h1v1h-1z"/></pattern><pattern id="sp_r1_80" patternUnits="userSpaceOnUse" x="0" y="0" width="16" height="16"><path fill="#e31a1c" d="M0 0h1v1h-1zM12 0h1v1h-1zM0 1h1v1h-1zM5 1h1v1h-1zM10 1h1v1h-1zM11 1h1v1h-1zM15 1h1v1h-1zM3 2h1v1h-1zM8 2h1v1h-1zM9 2h1v1h-1zM12 2h1v1h-1zM0 3h1v1h-1zM2 3h1v1h-1zM4 3h1v1h-1zM8 3h1v1h-1zM11 3h1v1h-1zM15 3h1v1h-1zM8 4h1v1h-1zM12 4h1v1h-1zM1 5h1v1h-1zM12 5h1v1h-1zM13 5h1v1h-1zM14 5h1v1h-1zM3 6h1v1h-1zM6 6h1v1h-1zM8 6h1v1h-1zM9 6h1v1h-1zM0 7h1v1h-1zM2 7h1v1h-1zM4 7h1v1h-1zM6 7h1v1h-1zM9 7h1v1h-1zM11 7h1v1h-1zM1 8h1v1h-1zM6 8h1v1h-1zM7 8h1v1h-1zM4 9h1v1h-1zM1 10h1v1h-1zM5 10h1v1h-1zM0 11h1v1h-1zM1 11h1v1h-1zM8 11h1v1h-1zM15 11h1v1h-1zM6 12h1v1h-1zM3 13h1v1h-1zM10 13h1v1h-1zM0 14h1v1h-1zM9 14h1v1h-1zM13 14h1v1h-1zM3 15h1v1h-1zM5 15h1v1h-1zM10 15h1v1h-1z"/><path fill="#fc4e2a" d="M1 0h1v1h-1zM1 1h1v1h-1zM2 1h1v1h-1zM3 1h1v1h-1zM9 1h1v1h-1zM4 2h1v1h-1zM6 2h1v1h-1zM7 2h1v1h-1zM13 3h1v1h-1zM14 4h1v1h-1zM0 5h1v1h-1zM5 5h1v1h-1zM8 5h1v1h-1zM2 6h1v1h-1zM7 6h1v1h-1zM10 6h1v1h-1zM11 6h1v1h-1zM15 6h1v1h-1zM8 7h1v1h-1zM14 7h1v1h-1zM0 8h1v1h-1zM5 8h1v1h-1zM8 8h1v1h-1zM0 9h1v1h-1zM10 9h1v1h-1zM15 9h1v1h-1zM4 10h1v1h-1zM11 10h1v1h-1zM12 10h1v1h-1zM15 10h1v1h-1zM3 11h1v1h-1zM11 11h1v1h-1zM13 11h1v1h-1zM14 11h1v1h-1zM0 12h1v1h-1zM12 12h1v1h-1zM15 12h1v1h-1zM6 13h1v1h-1zM1 14h1v1h-1zM3 14h1v1h-1zM4 14h1v1h-1zM10 14h1v1h-1zM2 15h1v1h-1zM9 15h1v1h-1zM11 15h1v1h-1z"/><path fill="#f0402a" d="M3 0h1v1h-1zM5 0h1v1h-1zM6 0h1v1h-1zM7 0h1v1h-1zM10 0h1v1h-1zM4 1h1v1h-1zM6 1h1v1h-1zM0 2h1v1h-1zM1 2h1v1h-1zM10 2h1v1h-1zM11 2h1v1h-1zM13 2h1v1h-1zM15 2h1v1h-1zM6 3h1v1h-1zM7 3h1v1h-1zM2 4h1v1h-1zM4 4h1v1h-1zM5 4h1v1h-1zM6 4h1v1h-1zM9 4h1v1h-1zM3 5h1v1h-1zM4 5h1v1h-1zM7 5h1v1h-1zM9 5h1v1h-1zM1 6h1v1h-1zM12 6h1v1h-1zM13 6h1v1h-1zM13 7h1v1h-1zM4 8h1v1h-1zM10 8h1v1h-1zM11 8h1v1h-1zM13 8h1v1h-1zM7 9h1v1h-1zM8 9h1v1h-1zM11 9h1v1h-1zM13 9h1v1h-1zM7 10h1v1h-1zM8 10h1v1h-1zM10 10h1v1h-1zM2 11h1v1h-1zM12 11h1v1h-1zM1 12h1v1h-1zM3 12h1v1h-1zM4 12h1v1h-1zM5 12h1v1h-1zM8 12h1v1h-1zM9 12h1v1h-1zM13 12h1v1h-1zM1 13h1v1h-1zM9 13h1v1h-1zM13 13h1v1h-1zM15 13h1v1h-1zM8 14h1v1h-1zM12 14h1v1h-1zM12 15h1v1h-1zM15 15h1v1h-1z"/><path fill="#fd6b33" d="M4 0h1v1h-1zM9 0h1v1h-1zM11 0h1v1h-1zM14 0h1v1h-1zM15 0h1v1h-1zM7 1h1v1h-1zM14 1h1v1h-1zM2 2h1v1h-1zM3 3h1v1h-1zM10 3h1v1h-1zM0 4h1v1h-1zM3 4h1v1h-1zM7 4h1v1h-1zM10 4h1v1h-1zM13 4h1v1h-1zM15 4h1v1h-1zM2 5h1v1h-1zM11 5h1v1h-1zM4 6h1v1h-1zM14 6h1v1h-1zM1 7h1v1h-1zM3 7h1v1h-1zM5 7h1v1h-1zM7 7h1v1h-1zM10 7h1v1h-1zM15 7h1v1h-1zM3 8h1v1h-1zM14 8h1v1h-1zM15 8h1v1h-1zM5 9h1v1h-1zM6 9h1v1h-1zM14 9h1v1h-1zM2 10h1v1h-1zM9 10h1v1h-1zM13 10h1v1h-1zM14 10h1v1h-1zM4 11h1v1h-1zM5 11h1v1h-1zM6 11h1v1h-1zM9 11h1v1h-1zM4 13h1v1h-1zM7 13h1v1h-1zM8 13h1v1h-1zM11 13h1v1h-1zM2 14h1v1h-1zM5 14h1v1h-1zM11 14h1v1h-1zM14 14h1v1h-1zM15 14h1v1h-1zM7 15h1v1h-1z"/></pattern></defs>
<g clip-path="url(#dc)">
<polygon fill="url(#yf)" points="299.0,26.0 318.9,26.0 318.7,30.2 318.1,31.9 316.8,31.5 315.9,29.8 313.8,29.4 313.0,31.1 311.7,32.8 310.0,34.0 308.3,35.3 305.8,36.6 303.7,37.9 301.5,38.7 299.8,39.6 299.0,40.0"/>
<polygon fill="url(#yf)" points="299.0,41.2 301.5,41.7 304.1,40.8 306.6,40.4 309.2,40.2 311.7,40.0 312.1,41.7 310.0,42.9 308.3,44.2 306.2,45.1 304.9,46.3 303.2,47.2 301.5,48.2 299.8,48.9 299.0,49.0"/>
<polygon fill="url(#yf)" points="349.8,61.6 351.5,58.6 352.8,58.2 352.5,59.9 351.1,62.0"/>
<polygon fill="url(#yf)" points="340.9,71.8 342.2,70.5 343.9,70.1 345.2,71.3 346.9,72.2 346.4,73.9 343.9,73.9 342.2,73.0"/>
<polygon fill="url(#yf)" points="337.1,87.0 338.8,84.5 341.4,81.9 343.9,80.2 345.6,79.2 347.7,79.0 349.0,81.1 350.7,82.8 352.4,84.5 354.1,87.0"/>
<polygon fill="url(#yf)" points="353.1,78.5 357.0,78.1 357.3,80.2 355.3,80.9 353.2,80.6"/>
<polygon fill="url(#yf)" points="324.0,87.0 324.8,85.7 327.0,85.3 329.1,84.9 331.6,84.9 332.9,86.2 333.3,87.0"/>
<polygon fill="url(#yf)" points="356.6,87.0 358.3,85.7 360.0,85.7 360.0,87.0"/>
<polygon fill="url(#yf)" points="397.7,49.7 398.1,48.2 399.8,46.8 401.9,45.5 404.1,44.2 405.8,42.9 406.2,41.2 405.8,39.6 406.6,37.9 408.7,37.0 410.4,37.4 410.8,38.7 410.0,40.4 410.8,40.8 412.1,40.0 413.0,38.3 414.2,37.9 415.9,37.4 418.5,37.0 421.0,36.6 421.0,41.2 419.3,42.1 417.6,42.9 415.9,43.4 414.2,43.8 412.1,43.8 410.4,44.2 408.3,45.1 406.2,46.3 404.1,47.2 401.9,47.9 399.8,48.9 398.5,50.1"/>
<polygon fill="url(#yf)" points="412.7,37.0 413.0,35.1 414.0,35.3 413.8,37.2"/>
<polygon fill="url(#yf)" points="421.0,42.5 419.3,43.8 417.2,45.5 415.1,47.2 413.0,48.9 410.8,50.1 409.1,51.4 408.3,53.1 409.1,54.4 411.7,54.4 413.0,52.7 414.6,52.7 415.1,54.4 414.2,56.1 413.0,57.3 411.3,58.6 409.1,59.5 407.4,60.3 405.8,59.5 403.6,59.0 401.9,59.5 401.1,60.7 399.4,62.0 398.1,63.3 396.4,64.5 394.3,65.4 392.2,65.8 390.5,66.7 390.1,68.4 389.2,70.1 387.1,71.3 385.8,71.8 385.8,67.5 384.6,66.2 382.5,66.8 380.8,67.9 379.5,69.6 379.9,71.8 378.6,72.4 376.9,71.8 375.7,71.8 374.8,73.0 374.0,74.7 373.6,76.8 372.7,79.4 371.0,81.9 369.7,84.5 368.0,87.0 421.0,87.0"/>
<polygon fill="#808080" points="385.4,75.1 388.0,73.9 391.3,73.4 393.9,73.0 395.6,72.2 397.3,73.0 396.4,74.3 394.7,76.0 393.5,77.7 393.0,80.2 392.2,82.8 391.3,85.3 390.5,87.0 381.2,87.0 382.0,84.5 383.7,81.9 385.4,78.5 385.8,76.8"/>
<polygon fill="url(#yf)" points="387.1,80.2 388.8,78.5 390.5,79.0 390.1,81.9 388.8,84.5 387.5,85.3 386.7,83.6"/>
<polygon fill="#808080" points="397.3,76.8 399.8,74.7 402.4,73.0 404.9,72.2 406.2,73.4 404.1,75.1 401.5,76.8 399.0,78.5 397.3,80.2 396.4,78.5"/>
<polygon fill="#808080" points="407.4,76.8 410.0,76.0 411.7,76.4 413.4,77.7 414.2,80.2 415.9,81.9 415.9,87.0 407.4,87.0 407.0,83.6 407.4,80.2"/>
<polygon fill="#808080" points="415.9,81.1 418.5,80.2 421.0,80.2 421.0,87.0 415.9,87.0"/>
<polygon fill="url(#yf)" points="360.0,81.9 361.7,81.1 364.2,81.1 365.9,82.3 364.2,84.0 361.7,84.5 360.0,84.5"/>
<polygon fill="url(#yf)" points="365.9,79.4 367.6,76.8 369.3,74.7 370.6,73.4 371.4,74.3 370.2,76.8 368.5,79.0 367.2,80.2"/>
<polygon fill="url(#yf)" points="361.7,75.1 363.0,74.7 363.8,75.6 362.5,76.0"/>
<polygon fill="url(#yf)" points="299.0,87.0 360.0,87.0 360.0,148.0 299.0,148.0"/>
<polygon fill="#808080" points="299.0,87.0 321.5,87.0 319.3,88.7 319.3,91.2 320.6,92.9 318.5,94.2 316.8,95.5 315.5,98.0 315.1,101.4 314.2,103.9 312.6,106.1 310.9,107.8 309.2,109.0 307.5,110.7 304.9,112.0 302.4,113.3 300.7,115.0 299.8,117.5 299.0,118.3"/>
<polygon fill="#808080" points="324.4,92.1 327.0,90.8 329.5,90.0 331.6,89.1 332.5,90.8 331.6,92.1 329.5,92.5 327.4,93.4 325.3,93.4"/>
<polygon fill="#808080" points="332.9,87.0 335.4,87.0 335.0,87.8 333.3,87.8"/>
<polygon fill="#808080" points="338.4,94.6 340.5,92.9 343.1,91.7 345.6,91.2 347.7,93.4 347.3,95.0 345.2,96.3 344.8,98.4 343.1,98.0 341.4,96.3 338.8,95.9"/>
<polygon fill="#808080" points="358.3,87.0 360.0,87.0 360.0,93.8 358.7,92.9 358.3,90.4"/>
<polygon fill="#808080" points="349.0,116.2 350.7,114.1 353.2,112.8 355.8,111.6 358.3,109.9 360.0,109.0 360.0,119.2 358.3,120.9 356.6,122.6 354.1,124.3 351.5,125.1 350.7,123.4 351.5,120.9 349.8,119.2 348.6,118.3"/>
<polygon fill="#808080" points="341.4,123.4 343.1,122.2 344.8,123.4 346.4,125.1 347.7,126.8 346.4,128.5 345.6,131.1 347.3,132.8 349.8,134.4 351.5,135.3 353.2,134.0 354.9,132.8 356.6,132.3 357.5,133.6 358.3,136.1 360.0,137.0 360.0,148.0 350.7,148.0 349.8,146.3 348.1,145.5 346.4,143.8 344.8,142.1 343.1,139.5 341.4,140.4 338.8,142.9 336.3,145.5 333.7,148.0 329.5,148.0 331.2,145.5 332.5,142.9 331.6,141.2 330.8,138.7 332.5,137.0 334.6,135.7 336.3,134.4 337.1,132.8 338.0,130.2 338.8,128.5 339.7,126.0"/>
<polygon fill="url(#yf)" points="339.7,139.5 342.2,137.8 344.8,137.8 346.0,140.4 343.9,142.9 341.4,144.6 338.8,145.5 338.0,143.8"/>
<polygon fill="url(#yf)" points="349.8,138.7 351.5,138.3 353.2,139.5 352.0,141.2 349.8,140.8"/>
<polygon fill="url(#yf)" points="357.5,139.5 359.2,137.8 360.0,137.8 360.0,146.3 358.3,145.5"/>
<polygon fill="#808080" points="325.3,108.6 327.0,107.3 328.7,106.5 329.1,107.8 327.8,109.5 327.0,111.1 325.7,110.7"/>
<polygon fill="#808080" points="306.6,117.1 308.3,116.2 309.6,116.7 308.3,117.5 307.0,117.7"/>
<polygon fill="#808080" points="304.1,125.5 305.4,125.1 305.8,128.5 306.6,130.2 304.9,130.6 304.1,128.5"/>
<polygon fill="#808080" points="312.6,141.6 314.2,140.0 315.9,137.8 317.2,137.0 319.3,135.7 321.5,133.6 322.7,133.2 323.1,135.3 322.3,137.8 320.6,138.7 318.9,140.0 317.2,141.2 315.5,142.5 314.7,143.8 313.4,143.3"/>
<polygon fill="url(#yf)" points="363.8,87.0 381.2,87.0 381.2,89.5 378.6,90.8 376.1,92.1 373.6,93.8 371.0,95.5 368.5,98.0 366.8,99.7 364.2,102.2 361.7,103.9 360.0,104.8 360.0,94.6 362.1,94.2 363.8,91.2"/>
<polygon fill="url(#yf)" points="382.9,87.0 390.1,87.0 389.7,88.7 386.3,89.5 383.7,89.1"/>
<polygon fill="url(#yf)" points="396.0,87.0 402.4,87.0 401.5,88.7 400.2,90.4 399.0,90.8 397.3,89.1"/>
<polygon fill="url(#yf)" points="413.0,90.8 415.1,89.1 416.3,88.3 417.6,87.8 417.6,90.4 415.9,91.7 414.2,92.1"/>
<polygon fill="url(#yf)" points="402.4,96.3 404.1,93.8 406.2,92.1 408.7,91.7 409.1,93.8 408.3,96.3 407.0,98.9 404.5,98.9 402.8,98.0"/>
<polygon fill="url(#yf)" points="360.0,115.0 361.7,111.6 364.2,108.2 367.6,106.1 372.7,102.7 376.9,105.2 382.0,104.4 387.1,105.6 389.2,105.6 389.2,108.2 386.3,110.7 385.8,112.4 388.8,112.4 388.8,115.0 385.4,115.4 382.9,112.4 380.3,112.4 377.8,114.1 376.1,116.7 374.8,119.2 374.4,122.6 372.7,125.1 371.9,127.7 370.2,129.4 368.5,131.1 366.8,133.2 365.1,134.9 363.4,136.1 360.0,137.0"/>
<polygon fill="#808080" points="368.9,123.0 371.0,123.0 371.0,124.7 368.9,124.7"/>
<polygon fill="url(#yf)" points="376.9,126.8 378.6,124.3 380.8,121.7 382.9,119.6 385.4,118.8 386.3,119.6 384.6,121.7 382.9,124.3 380.8,126.0 378.6,127.2"/>
<polygon fill="url(#yf)" points="375.2,103.1 376.9,100.6 378.2,98.0 379.9,95.9 381.6,94.2 383.0,94.2 382.9,97.2 382.2,99.7 381.6,102.2 380.3,103.9 377.8,103.9"/>
<polygon fill="#808080" points="372.7,102.7 376.9,103.5 380.3,105.2 381.2,106.9 376.9,106.5 373.6,105.2"/>
<polygon fill="url(#yf)" points="421.0,95.5 419.3,96.3 418.5,98.9 415.9,100.6 413.4,101.4 410.8,101.8 408.3,102.2 406.2,103.1 403.2,103.9 400.7,105.2 398.1,107.3 396.9,109.5 396.4,112.4 394.7,115.0 393.0,117.5 390.5,119.2 388.4,120.9 386.3,123.4 384.6,126.0 383.3,127.7 382.9,129.4 384.6,130.2 387.1,131.1 390.5,131.5 393.9,131.1 395.6,130.2 397.3,128.9 399.0,127.7 400.7,127.2 403.2,126.8 404.9,127.7 406.6,128.5 407.4,131.1 408.3,133.6 410.0,132.8 410.8,131.1 411.7,129.4 413.4,128.5 415.1,127.7 416.8,126.8 418.5,126.0 421.0,125.1"/>
<polygon fill="#808080" points="400.7,124.3 404.1,123.0 407.4,122.6 410.8,122.2 413.4,123.4 412.5,125.1 410.0,126.0 407.4,126.4 404.1,126.0 401.5,126.0"/>
<polygon fill="url(#yf)" points="414.2,134.4 415.9,132.8 418.5,131.9 421.0,131.5 421.0,148.0 417.6,148.0 418.5,144.6 416.8,142.1 415.1,141.2 414.2,138.7"/>
<polygon fill="url(#yf)" points="397.3,137.0 399.0,134.9 400.7,133.2 402.4,131.9 403.2,133.2 401.9,135.3 400.2,137.0 398.5,137.8"/>
<polygon fill="url(#yf)" points="383.7,137.8 385.4,135.7 387.1,133.6 389.2,131.9 390.1,133.2 388.4,135.3 386.3,137.4 384.6,138.7"/>
<polygon fill="url(#yf)" points="366.4,138.7 368.0,136.1 369.7,134.4 371.0,133.2 371.4,134.4 370.2,136.6 368.5,138.7 367.2,139.5"/>
<polygon fill="url(#yf)" points="374.8,137.8 375.7,135.3 376.9,133.6 378.2,133.2 377.8,135.3 376.5,137.8 375.2,138.7"/>
<polygon fill="url(#yf)" points="360.0,142.1 361.7,141.2 363.4,142.1 362.5,144.6 360.8,146.3 360.0,146.7"/>
<polygon fill="url(#yf)" points="368.5,148.0 370.2,145.5 371.9,143.3 374.0,142.1 374.4,143.8 373.1,146.3 372.3,148.0"/>
<polygon fill="url(#yf)" points="375.2,148.0 376.1,145.5 377.8,144.6 378.2,146.3 377.4,148.0"/>
<polygon fill="url(#yf)" points="382.0,142.1 384.6,140.4 385.4,141.6 383.7,143.3 382.5,143.8"/>
<polygon fill="url(#yf)" points="408.3,145.5 410.8,143.8 411.7,145.5 410.0,147.2 408.7,147.6"/>
<polygon fill="url(#yf)" points="299.0,148.0 327.0,148.0 327.0,149.3 329.1,149.7 329.5,148.0 339.7,148.0 338.8,149.3 336.3,150.5 334.6,152.2 332.9,153.5 331.2,154.8 329.9,156.0 329.5,157.3 330.3,159.9 332.9,160.3 335.4,159.9 336.3,161.6 332.9,163.2 330.8,164.5 329.1,166.2 327.4,168.3 325.7,170.5 324.4,172.6 323.1,175.1 321.5,176.8 319.3,178.5 317.6,180.2 315.9,181.9 314.7,184.4 313.4,187.0 312.1,189.5 311.3,192.1 311.7,194.2 313.0,195.9 314.2,198.8 315.9,202.2 315.1,203.9 313.0,205.6 310.9,207.3 309.2,209.0 299.0,209.0"/>
<polygon fill="#808080" points="329.5,155.6 332.0,155.2 334.6,155.6 334.6,158.6 332.5,159.9 330.3,159.4"/>
<polygon fill="#808080" points="305.8,161.6 308.3,160.3 310.0,159.9 310.0,161.1 307.5,162.0 306.2,162.4"/>
<polygon fill="#808080" points="314.2,161.1 316.8,160.3 317.2,161.6 315.1,162.0"/>
<polygon fill="#808080" points="302.8,173.4 304.1,173.0 305.8,174.7 304.9,176.0 303.2,175.1"/>
<polygon fill="#808080" points="307.5,183.6 309.2,182.3 311.7,181.5 314.2,180.2 315.9,178.5 316.8,177.2 317.6,176.0 318.3,176.8 317.0,178.7 315.1,180.8 312.6,182.5 310.0,183.8 308.5,185.4 308.1,187.8 307.0,187.4"/>
<polygon fill="#808080" points="321.9,170.9 323.6,169.6 324.8,170.0 323.6,171.3"/>
<polygon fill="#808080" points="302.4,198.8 304.9,197.6 307.5,196.3 310.0,195.0 312.6,193.8 313.4,194.6 310.9,195.9 308.3,197.1 305.8,198.2 303.2,199.7"/>
<polygon fill="url(#yf)" points="336.3,170.9 338.0,169.2 339.7,167.9 341.4,165.8 342.2,164.1 343.9,162.4 346.4,160.7 348.1,159.0 349.8,156.5 351.5,155.2 352.0,156.5 350.7,159.0 349.0,161.6 347.3,163.7 345.6,165.8 343.9,168.3 343.1,170.0 341.4,171.7 339.7,173.4 338.0,173.0"/>
<polygon fill="url(#yf)" points="335.4,159.9 338.0,158.2 340.5,156.5 342.2,154.8 343.5,152.2 344.8,150.5 346.4,150.1 346.4,152.2 344.8,153.9 343.1,155.6 341.4,157.3 339.7,159.0 338.0,160.7 336.3,162.0 334.6,162.8"/>
<polygon fill="url(#yf)" points="348.1,166.6 349.8,164.9 351.5,163.7 354.1,162.0 355.8,159.9 357.5,157.3 358.3,154.8 359.2,153.1 360.0,152.7 360.0,158.2 358.7,159.9 357.5,161.6 355.8,163.2 353.2,164.9 351.5,166.6 349.8,167.9 348.6,167.9"/>
<polygon fill="url(#yf)" points="354.9,155.2 357.5,153.1 358.7,153.5 357.5,155.6 355.8,156.0"/>
<polygon fill="url(#yf)" points="332.9,176.0 334.6,174.3 336.3,174.7 336.3,177.2 335.4,179.3 333.7,180.2 332.9,178.5"/>
<polygon fill="url(#yf)" points="332.0,180.2 333.7,179.8 334.2,181.9 332.5,183.6 331.6,182.3"/>
<polygon fill="url(#yf)" points="349.8,175.1 350.7,174.9 350.9,176.8 350.0,176.8"/>
<polygon fill="url(#yf)" points="318.9,200.5 320.6,200.1 321.0,201.8 319.3,202.2"/>
<polygon fill="url(#yf)" points="315.5,208.2 317.2,206.5 319.3,205.2 320.2,206.0 318.5,207.7 316.8,209.0 315.5,209.0"/>
<polygon fill="url(#yf)" points="400.7,152.7 402.4,151.4 404.9,150.5 406.6,148.8 407.4,148.0 421.0,148.0 421.0,157.3 419.3,156.5 415.9,156.5 413.4,157.3 410.8,158.6 408.7,159.9 406.6,159.4 406.2,157.3 404.9,155.6 402.4,154.8 400.7,153.9"/>
<polygon fill="url(#yf)" points="418.0,160.7 421.0,159.9 421.0,164.9 418.5,164.9"/>
<polygon fill="url(#yf)" points="368.5,148.0 371.0,148.0 370.6,149.7 368.9,149.7"/>
<polygon fill="url(#yf)" points="367.2,151.8 368.5,151.0 369.7,151.8 369.7,153.9 367.2,153.9"/>
<polygon fill="url(#yf)" points="360.0,155.2 360.8,155.2 360.8,156.9 360.0,156.9"/>
<polygon fill="url(#yf)" points="378.2,155.6 379.9,154.4 380.3,152.2 382.5,150.5 385.4,150.1 388.0,150.1 387.5,152.2 385.4,154.4 382.9,154.8 380.8,155.6 378.6,156.0"/>
<polygon fill="url(#yf)" points="371.0,168.3 371.9,164.9 373.6,163.2 375.2,162.0 376.9,163.2 376.5,164.9 374.4,164.9 373.6,166.6 373.6,168.8 371.9,169.2"/>
<polygon fill="url(#yf)" points="371.0,175.1 373.6,174.3 375.2,172.6 376.9,170.9 378.2,170.5 378.6,172.6 380.3,172.1 382.0,171.3 383.7,170.9 385.0,171.7 385.4,174.3 385.4,177.7 385.8,179.3 383.7,181.5 382.5,183.6 379.5,183.6 376.9,184.4 374.8,183.6 374.0,181.5 374.4,179.3 373.6,176.8 371.9,176.0"/>
<polygon fill="url(#yf)" points="385.8,170.0 387.1,169.2 388.8,169.6 390.5,169.2 393.0,168.8 395.6,169.2 398.1,169.6 400.7,170.5 403.2,170.5 405.8,170.9 408.3,171.3 409.1,173.4 411.7,173.8 414.2,174.3 416.8,175.1 415.9,177.2 413.4,178.5 411.7,180.2 409.1,180.2 407.4,179.3 406.2,181.9 404.9,183.6 402.8,184.9 401.5,183.2 400.7,181.5 399.8,180.2 397.3,181.0 395.6,182.7 393.0,183.2 391.3,181.5 390.5,179.8 388.8,178.9 387.1,177.7 386.3,176.0 386.7,173.4 387.1,171.7"/>
<polygon fill="#808080" points="388.8,172.6 390.5,172.1 392.2,173.4 391.8,176.0 389.7,176.0"/>
<polygon fill="#808080" points="399.4,176.0 400.7,175.1 402.4,176.8 401.9,178.5 400.2,177.7"/>
<polygon fill="url(#yf)" points="380.3,209.0 382.0,206.5 384.6,204.8 387.1,203.1 389.7,201.4 392.2,200.1 393.9,198.8 395.6,197.1 397.3,195.9 399.8,194.6 402.4,193.8 404.1,192.1 406.6,190.4 409.1,188.7 411.7,187.8 414.2,187.0 415.9,185.3 416.8,183.6 418.5,181.9 420.2,180.6 421.0,180.2 421.0,195.4 419.3,197.1 418.5,198.8 416.8,199.7 415.1,200.5 414.2,198.8 412.5,198.0 410.8,198.8 408.3,199.7 405.8,198.8 403.2,198.0 400.7,198.0 398.1,198.8 396.4,200.5 394.7,203.1 393.0,205.6 392.2,207.3 390.5,209.0"/>
<polygon fill="#808080" points="419.3,188.7 421.0,187.8 421.0,191.2 418.5,193.8 416.8,196.3 415.5,195.4 417.6,192.1"/>
<polygon fill="url(#yf)" points="409.1,187.0 410.8,186.1 411.7,187.8 410.0,188.2"/>
<polygon fill="url(#yf)" points="382.0,202.2 383.7,201.0 385.4,201.4 384.6,202.6 382.5,203.1"/>
<polygon fill="url(#yf)" points="410.0,202.2 412.5,201.4 414.2,202.2 412.5,203.9 410.4,203.9"/>
<polygon fill="url(#yf)" points="365.9,167.1 366.9,167.1 366.9,168.1 365.9,168.1"/>
<polygon fill="url(#yf)" points="390.1,187.8 391.1,187.8 391.1,188.8 390.1,188.8"/>
<polygon fill="url(#yf)" points="385.0,192.9 386.0,192.9 386.0,193.9 385.0,193.9"/>
<polygon fill="url(#yf)" points="299.0,209.0 316.4,209.0 315.9,210.7 314.2,212.4 312.6,213.2 311.7,214.9 313.4,216.6 315.1,217.5 316.8,217.9 318.5,217.0 319.8,217.5 321.0,219.2 320.2,220.9 317.6,221.7 315.5,222.6 314.2,224.2 312.6,225.5 310.0,225.9 306.6,226.8 305.8,228.5 306.2,231.0 307.0,233.6 305.8,235.3 304.1,237.0 302.4,239.5 301.5,242.0 304.1,241.2 305.8,239.5 308.3,238.7 310.0,237.0 309.2,235.3 310.9,236.1 312.6,239.5 314.7,239.5 315.1,241.2 313.0,242.9 310.9,244.6 309.6,247.1 310.0,249.7 309.2,251.4 307.5,252.2 305.8,253.1 303.2,253.1 301.5,253.9 299.0,254.8"/>
<polygon fill="#808080" points="300.7,218.3 304.1,217.0 306.6,216.6 308.3,215.8 307.5,217.5 304.9,219.2 302.4,220.0 300.7,220.4"/>
<polygon fill="#808080" points="302.4,247.1 304.1,247.1 304.1,248.8 302.4,248.8"/>
<polygon fill="url(#yf)" points="319.8,225.1 321.0,223.4 322.3,222.1 323.1,223.0 322.3,224.7 321.0,225.5"/>
<polygon fill="url(#yf)" points="320.6,228.1 321.5,227.6 322.0,229.3 321.0,229.8"/>
<polygon fill="url(#yf)" points="323.1,225.9 324.0,225.8 324.2,227.5 323.3,227.6"/>
<polygon fill="url(#yf)" points="318.1,213.2 318.9,212.8 319.2,214.9 318.3,215.1"/>
<polygon fill="url(#yf)" points="299.0,258.1 300.7,257.7 301.1,259.8 299.8,261.1 299.0,260.7"/>
<polygon fill="url(#yf)" points="299.0,261.5 299.8,262.0 299.4,263.2 299.0,263.2"/>
<polygon fill="url(#yf)" points="352.8,228.1 354.9,227.8 355.1,228.9 353.0,229.1"/>
<polygon fill="url(#yf)" points="315.9,234.0 317.0,233.7 317.0,234.8 316.0,235.0"/>
<polygon fill="#fed976" points="321.9,250.9 322.9,250.8 323.0,252.0 322.0,252.2"/>
<polygon fill="#fed976" points="323.1,256.0 324.2,255.8 324.2,257.0 323.2,257.1"/>
<polygon fill="#fed976" points="327.0,257.7 328.2,256.9 329.1,258.1 328.2,259.0 327.1,258.8"/>
<polygon fill="#fed976" points="329.9,264.1 330.9,263.9 331.0,265.8 330.0,265.9"/>
<polygon fill="#fed976" points="300.7,264.9 302.8,264.7 302.9,265.8 300.8,265.9"/>
<polygon fill="#fed976" points="357.0,267.9 359.0,267.7 359.1,268.8 357.1,269.0"/>
<polygon fill="#fed976" points="302.8,254.8 303.9,254.6 304.0,255.8 302.9,255.9"/>
<polygon fill="url(#yf)" points="368.9,209.0 397.3,209.0 396.4,211.1 393.9,212.4 392.6,214.1 391.3,214.9 390.5,213.2 388.8,211.5 385.4,211.5 384.6,209.8 381.2,209.8 378.6,210.7 376.9,211.5 373.6,212.0 371.9,213.7 370.6,212.8 370.2,211.1 368.9,210.7"/>
<polygon fill="#fd8d3c" points="375.9,250.9 378.0,250.9 378.0,252.9 375.9,252.9"/>
<polygon fill="url(#yf)" points="343.9,297.1 346.4,296.3 348.1,292.9 349.8,291.2 352.4,290.3 354.9,289.9 360.0,290.3 360.0,314.9 358.3,314.9 357.0,314.1 357.0,305.6 355.8,303.9 354.1,304.7 352.4,307.3 351.5,309.0 350.7,307.7 352.0,305.6 353.2,303.9 351.5,303.5 349.8,303.9 348.1,303.0 347.3,301.3 345.6,300.5 344.3,299.7"/>
<polygon fill="#cbccd0" points="353.2,292.5 354.9,290.8 357.5,289.5 360.0,289.9 360.0,295.4 358.3,295.8 356.6,295.4 355.3,294.6 354.1,294.1"/>
<polygon fill="#cbccd0" points="358.3,295.4 360.0,295.4 360.0,298.8 358.7,298.4"/>
<polygon fill="#fed976" points="327.8,273.0 329.1,273.0 329.2,275.1 327.9,275.1"/>
<polygon fill="#fed976" points="302.0,280.8 303.1,280.8 303.1,282.0 302.0,282.0"/>
<polygon fill="#fed976" points="358.7,278.9 360.0,278.9 360.0,281.0 358.7,281.0"/>
<polygon fill="#fed976" points="338.8,309.0 340.9,309.0 341.0,311.1 338.9,311.1"/>
<polygon fill="#fed976" points="329.9,313.2 332.0,312.8 332.9,314.1 331.6,314.9 330.1,314.7"/>
<polygon fill="#fed976" points="333.7,315.3 336.3,314.9 337.5,314.1 338.1,315.3 337.1,316.6 334.6,317.0 333.9,316.4"/>
<polygon fill="#fed976" points="318.9,314.9 321.9,314.9 322.0,317.0 319.0,317.0"/>
<polygon fill="#fed976" points="313.0,317.0 314.9,316.9 315.0,319.0 313.1,319.0"/>
<polygon fill="url(#yf)" points="360.0,277.6 362.5,276.8 365.1,275.1 367.6,273.0 370.2,271.3 371.0,271.7 368.5,273.8 366.4,275.9 368.5,277.6 371.0,277.2 373.6,278.0 375.7,278.9 374.8,280.2 372.7,281.0 371.0,282.7 369.3,285.2 368.0,286.1 367.6,284.4 365.9,283.6 365.1,281.9 363.4,280.2 361.7,279.3 360.0,279.3"/>
<polygon fill="#feb24c" points="368.0,282.7 370.2,282.3 371.0,283.6 369.3,285.7 368.0,285.9"/>
<polygon fill="url(#yf)" points="360.0,273.0 362.1,273.0 362.1,274.7 360.0,274.7"/>
<polygon fill="url(#yf)" points="366.8,296.3 368.5,294.6 370.2,293.3 371.4,293.3 371.0,295.0 369.3,295.8 367.6,296.9"/>
<polygon fill="#fed976" points="378.6,282.3 379.9,282.3 379.9,283.4 378.6,283.4"/>
<polygon fill="url(#yf)" points="360.0,300.9 363.4,301.3 366.8,300.9 370.2,300.5 372.7,300.9 374.4,301.3 376.9,302.2 379.5,303.0 380.3,304.7 378.6,305.6 376.9,307.3 374.4,309.0 371.9,309.8 368.5,310.7 365.9,311.5 363.4,313.2 361.7,314.1 360.0,314.1"/>
<polygon fill="#cbccd0" points="372.3,301.3 374.8,300.1 376.9,300.9 379.1,301.8 380.8,303.5 378.6,304.3 376.1,303.5 374.0,303.9 372.7,303.0"/>
<polygon fill="#cbccd0" points="360.0,295.4 362.1,295.4 363.4,297.1 362.5,298.8 360.0,299.2"/>
<polygon fill="#cbccd0" points="365.1,299.2 366.8,299.2 366.8,300.1 365.1,300.1"/>
<polygon fill="url(#pf)" points="376.9,312.4 378.2,311.1 379.9,310.7 382.0,310.2 384.6,309.8 387.1,309.0 389.7,306.4 390.5,305.6 392.2,304.7 394.7,303.9 396.4,301.8 398.1,300.9 399.4,300.1 399.8,302.2 400.2,305.6 401.5,307.3 402.4,308.1 404.1,309.8 406.2,310.7 407.4,311.5 409.1,312.4 410.8,314.1 412.5,314.9 414.2,314.5 415.9,314.9 417.6,317.4 419.3,318.3 421.0,317.9 421.0,331.0 379.5,331.0 380.3,329.3 382.9,328.5 385.4,327.6 387.1,325.9 386.3,324.2 384.6,322.5 382.9,320.0 381.2,317.4 380.3,314.9 378.6,314.1"/>
<polygon fill="#cbccd0" points="402.4,310.7 404.1,310.2 407.4,310.2 408.3,311.5 408.7,314.9 407.4,315.8 404.9,315.8 402.8,314.9"/>
<polygon fill="#cbccd0" points="385.4,328.5 388.0,328.0 388.8,329.3 388.0,331.0 385.4,331.0"/>
<polygon fill="#cbccd0" points="397.3,329.3 399.0,328.9 399.8,331.0 397.3,331.0"/>
<polygon fill="#cbccd0" points="401.9,298.0 403.2,297.1 404.5,298.4 404.9,302.6 404.1,303.0 402.8,300.5"/>
<polygon fill="#feb24c" points="384.1,297.1 385.4,297.1 385.4,300.5 384.1,300.5"/>
<polygon fill="#feb24c" points="377.8,297.5 379.9,297.1 379.9,298.8 378.2,298.8"/>
<polygon fill="#feb24c" points="385.4,306.4 388.0,306.0 388.0,307.3 385.4,307.3"/>
<polygon fill="#feb24c" points="384.1,303.9 385.0,303.9 385.0,305.6 384.1,305.6"/>
<polygon fill="#feb24c" points="401.9,303.9 404.1,303.9 404.1,305.2 401.9,305.2"/>
<polygon fill="#fd8d3c" points="404.1,306.9 406.2,306.4 406.2,307.7 404.1,307.7"/>
<polygon fill="#fd8d3c" points="407.0,306.0 409.1,306.4 409.6,308.5 407.4,309.0"/>
<polygon fill="#fd8d3c" points="413.0,309.0 414.2,309.0 414.2,311.1 413.0,311.1"/>
<polygon fill="#fc4e2a" points="418.9,312.8 420.2,312.8 420.2,314.1 418.9,314.1"/>
<polygon fill="#fed976" points="375.7,318.3 376.9,318.3 376.9,319.6 375.7,319.6"/>
<polygon fill="#fed976" points="379.1,318.7 380.8,318.7 380.8,320.0 379.1,320.0"/>
<polygon fill="#feb24c" points="377.4,311.5 380.3,311.1 381.2,312.4 380.3,314.1 378.2,314.5 377.4,313.2"/>
<polygon fill="url(#pf)" points="351.1,346.7 353.2,344.6 354.9,342.9 357.5,340.3 359.2,338.6 360.0,338.6 360.0,371.7 358.3,372.5 356.6,371.7 354.9,370.8 353.2,370.0 351.5,368.3 351.1,365.7 351.5,363.2 351.1,360.7 352.0,358.1 352.4,355.6 353.2,353.0 352.4,350.5 351.5,348.8"/>
<polygon fill="url(#yf)" points="343.1,350.9 345.6,349.2 348.1,348.4 350.3,348.4 350.7,350.1 348.1,350.9 346.0,351.8 345.6,353.9 343.9,353.9 343.1,352.6"/>
<polygon fill="url(#yf)" points="340.1,353.0 341.8,353.0 341.8,354.0 340.1,354.0"/>
<polygon fill="url(#pf)" points="299.0,385.2 301.5,384.4 304.1,383.5 306.6,382.3 308.3,381.0 310.4,380.1 312.6,379.3 315.1,378.4 318.5,378.0 321.9,377.6 323.6,376.8 326.1,375.9 328.2,375.1 330.3,374.2 332.9,373.4 335.4,372.5 337.5,370.8 339.2,370.0 339.7,372.5 341.4,373.4 343.1,372.5 344.8,373.4 346.4,374.2 348.1,374.2 349.8,373.4 351.5,372.9 354.1,372.5 356.6,372.1 360.0,371.7 360.0,381.8 358.3,382.3 354.9,381.8 353.2,382.7 350.7,383.5 348.1,384.4 344.8,384.4 341.4,385.2 338.8,385.2 336.3,384.4 334.6,384.4 331.2,385.2 329.5,386.9 327.8,387.8 326.1,386.9 323.6,385.2 321.0,384.4 318.5,385.2 315.9,385.2 313.4,386.1 310.0,386.9 308.3,388.6 305.8,388.6 303.2,387.8 300.7,386.9 299.0,386.9"/>
<polygon fill="#fc4e2a" points="338.8,381.0 341.4,381.0 341.4,385.2 338.8,385.2"/>
<polygon fill="#fd8d3c" points="329.1,370.4 330.8,369.5 332.0,367.4 333.7,367.0 334.6,368.3 333.7,370.0 332.5,371.2 331.2,372.5 329.5,372.1"/>
<polygon fill="url(#yf)" points="311.7,370.4 313.8,370.0 314.2,371.7 312.6,372.1"/>
<polygon fill="url(#yf)" points="313.8,368.3 314.9,368.3 314.9,369.5 313.8,369.5"/>
<polygon fill="#fed976" points="315.9,372.1 318.1,372.1 318.1,373.1 315.9,373.1"/>
<polygon fill="#fd8d3c" points="322.7,370.8 324.0,370.8 324.0,372.1 322.7,372.1"/>
<polygon fill="#fed976" points="329.9,365.7 331.2,365.7 331.2,367.0 329.9,367.0"/>
<polygon fill="#fed976" points="334.6,365.7 335.9,365.7 335.9,367.0 334.6,367.0"/>
<polygon fill="#feb24c" points="344.8,367.9 346.0,367.9 346.0,370.0 344.8,370.0"/>
<polygon fill="#feb24c" points="349.8,367.9 351.5,367.9 351.5,369.1 349.8,369.1"/>
<polygon fill="url(#yf)" points="310.9,377.2 312.6,377.2 312.6,378.9 310.9,378.9"/>
<polygon fill="url(#yf)" points="306.2,378.0 307.9,378.0 307.9,379.7 306.2,379.7"/>
<polygon fill="url(#yf)" points="304.1,379.7 305.4,379.7 305.4,381.0 304.1,381.0"/>
<polygon fill="url(#yf)" points="321.9,388.2 324.0,388.2 324.0,389.9 321.9,389.9"/>
<polygon fill="url(#yf)" points="331.6,390.7 332.9,390.7 332.9,392.0 331.6,392.0"/>
<polygon fill="#e31a1c" points="354.1,386.9 355.3,386.9 355.3,388.2 354.1,388.2"/>
<polygon fill="#fc4e2a" points="356.6,387.8 360.0,386.9 360.0,392.0 356.6,392.0"/>
<polygon fill="url(#pf)" points="360.0,331.0 421.0,331.0 421.0,392.0 360.0,392.0"/>
<polygon fill="#808080" points="360.0,331.0 378.2,331.0 378.2,333.1 376.9,334.8 375.2,335.7 371.9,335.2 368.5,334.8 366.8,335.7 365.1,337.4 362.5,337.8 360.0,337.8"/>
<polygon fill="#cbccd0" points="370.2,335.7 372.7,334.8 374.4,336.1 374.8,338.6 373.1,339.5 371.0,339.0 370.2,337.8"/>
<polygon fill="#cbccd0" points="365.1,338.2 367.2,337.8 367.6,339.5 365.5,339.5"/>
<polygon fill="#cbccd0" points="385.0,332.7 386.3,331.0 390.5,331.0 390.9,333.5 392.6,335.7 391.8,337.8 389.7,337.4 388.0,336.1 386.3,334.8"/>
<polygon fill="#cbccd0" points="396.4,331.0 399.8,331.0 399.4,332.7 397.3,332.7"/>
<polygon fill="#808080" points="390.5,331.0 392.6,331.0 392.6,332.7 390.9,332.7"/>
<polygon fill="#808080" points="365.1,363.2 366.8,359.0 368.5,355.6 370.2,352.2 372.7,349.2 375.2,347.9 378.6,347.1 378.2,350.1 376.9,353.0 376.1,356.4 375.7,359.8 375.2,364.0 372.7,366.2 370.2,367.9 367.6,369.5 365.1,370.8 362.5,371.7 360.0,371.7 360.0,366.6 361.7,366.6 363.4,365.7 364.7,364.5"/>
<polygon fill="#808080" points="360.0,354.7 361.3,353.0 362.1,353.9 362.1,359.0 361.7,363.2 361.3,365.7 360.0,366.6"/>
<polygon fill="#808080" points="381.2,357.3 382.0,354.7 384.6,352.2 386.3,349.6 388.0,347.5 389.7,347.1 389.7,352.2 387.1,352.6 385.4,353.9 383.7,355.6 382.5,357.3"/>
<polygon fill="#808080" points="390.5,343.7 392.2,342.9 393.9,342.0 394.3,342.9 392.6,344.1 390.9,345.0"/>
<polygon fill="#808080" points="360.0,379.3 363.4,379.7 366.8,381.0 368.5,383.1 365.9,384.4 363.4,385.2 360.0,386.1"/>
<polygon fill="#e31a1c" points="360.0,381.8 361.7,381.8 362.1,384.8 360.0,385.2"/>
<polygon fill="#808080" points="365.9,372.9 369.3,372.9 369.3,374.2 365.9,374.2"/>
<polygon fill="#808080" points="366.8,375.9 368.5,375.9 368.5,377.2 366.8,377.2"/>
<polygon fill="url(#pf)" points="338.0,404.7 341.4,403.9 344.8,403.9 348.1,403.0 349.8,401.3 352.4,398.8 354.1,394.5 354.9,392.0 360.0,392.0 360.0,413.2 358.3,411.5 356.6,409.8 354.1,408.9 351.5,408.9 349.8,409.8 347.3,411.5 345.6,409.8 343.1,408.9 341.4,408.1 338.8,408.1"/>
<polygon fill="url(#pf)" points="346.4,412.3 349.0,410.6 351.5,408.9 354.9,408.9 358.3,410.6 360.0,412.3 360.0,446.2 358.3,444.5 356.6,446.2 354.9,446.2 353.2,444.5 351.5,442.8 349.8,442.0 348.1,440.3 346.4,438.6 345.2,436.1 346.4,434.4 349.0,432.7 350.7,431.0 351.5,429.3 349.8,427.6 348.6,425.9 348.1,422.5 349.0,420.0 348.1,417.4 347.3,414.9"/>
<polygon fill="#e31a1c" points="349.0,453.0 349.8,449.6 351.1,447.1 352.4,447.1 352.0,450.5 350.7,453.0"/>
<polygon fill="#fed976" points="310.0,403.4 311.7,403.0 312.1,404.7 310.4,405.1"/>
<polygon fill="#fed976" points="310.0,414.9 311.7,413.2 312.6,412.3 313.8,412.3 315.1,413.2 316.8,412.3 318.1,412.8 317.2,414.5 315.5,415.3 314.7,416.6 312.6,417.0 310.4,416.6"/>
<polygon fill="#feb24c" points="304.1,420.8 305.8,419.1 307.5,419.1 307.9,420.8 306.6,422.1 304.5,422.1"/>
<polygon fill="#feb24c" points="299.0,425.5 301.5,425.0 302.0,427.2 299.8,427.6 299.0,427.6"/>
<polygon fill="#fc4e2a" points="321.0,421.2 324.0,421.2 324.0,422.9 321.0,422.9"/>
<polygon fill="#fd8d3c" points="332.9,424.2 334.6,423.3 336.3,423.8 335.9,426.7 333.7,427.2 332.9,425.9"/>
<polygon fill="#e31a1c" points="333.7,424.6 335.4,424.6 335.4,426.3 333.7,426.3"/>
<polygon fill="#a00026" points="326.1,431.0 329.5,431.0 329.9,432.2 327.8,432.7 326.1,432.7"/>
<polygon fill="#e31a1c" points="327.8,425.5 329.9,425.0 329.9,426.7 327.8,426.7"/>
<polygon fill="#e31a1c" points="329.9,420.0 332.5,420.0 333.7,421.7 332.0,422.1 330.3,421.2"/>
<polygon fill="#fd8d3c" points="326.1,415.3 327.8,414.0 328.7,414.9 328.2,416.6 326.5,417.0"/>
<polygon fill="#fd8d3c" points="335.0,409.8 337.1,409.8 337.1,411.9 335.0,411.9"/>
<polygon fill="#fd8d3c" points="338.8,416.1 340.9,416.1 340.9,417.8 338.8,417.8"/>
<polygon fill="#fd8d3c" points="340.9,410.2 343.9,410.2 343.9,412.8 340.9,412.8"/>
<polygon fill="#e31a1c" points="334.6,427.6 336.7,427.6 336.7,429.3 334.6,429.3"/>
<polygon fill="#fd8d3c" points="335.0,431.0 337.1,431.0 337.1,432.0 335.0,432.0"/>
<polygon fill="#e31a1c" points="341.8,422.9 343.9,422.9 343.9,424.0 341.8,424.0"/>
<polygon fill="#e31a1c" points="342.2,442.0 343.5,442.0 343.5,443.3 342.2,443.3"/>
<polygon fill="#e31a1c" points="327.0,443.3 328.2,443.3 328.2,445.0 327.0,445.0"/>
<polygon fill="#fd8d3c" points="304.1,447.1 305.1,447.1 305.1,448.8 304.1,448.8"/>
<polygon fill="#e31a1c" points="313.8,450.0 315.1,450.0 315.1,451.7 313.8,451.7"/>
<polygon fill="#fd8d3c" points="324.4,452.2 326.1,452.2 326.1,453.0 324.4,453.0"/>
<polygon fill="#fed976" points="330.8,392.0 332.0,392.0 332.0,393.7 330.8,393.7"/>
<polygon fill="#fd8d3c" points="329.1,394.1 329.9,394.1 329.9,395.0 329.1,395.0"/>
<polygon fill="#fed976" points="343.9,399.2 345.2,399.2 345.2,400.0 343.9,400.0"/>
<polygon fill="#fed976" points="330.8,407.2 332.9,407.1 332.9,408.1 330.8,408.1"/>
<polygon fill="#fed976" points="329.1,412.3 329.9,411.9 329.9,413.6 329.1,413.6"/>
<polygon fill="#fd8d3c" points="328.7,416.6 330.8,416.6 330.8,417.8 328.7,417.8"/>
<polygon fill="url(#pf)" points="360.0,392.0 421.0,392.0 421.0,453.0 360.0,453.0"/>
<polygon fill="#808080" points="360.0,443.7 361.7,442.8 365.1,443.7 367.6,441.1 369.3,440.3 371.0,442.8 373.6,444.5 376.9,447.1 380.3,447.9 383.7,449.6 387.1,450.5 389.7,452.2 389.7,453.0 360.0,453.0"/>
<polygon fill="#e31a1c" points="363.4,449.6 365.1,448.8 365.9,450.5 364.2,451.3"/>
<polygon fill="#e31a1c" points="371.9,447.1 374.0,447.1 374.0,448.8 371.9,448.8"/>
<polygon fill="#e31a1c" points="379.5,450.5 382.0,450.0 382.0,451.7 379.5,451.7"/>
<polygon fill="url(#pf)" points="343.1,458.1 344.8,456.4 347.3,455.5 349.8,454.3 351.5,454.7 353.2,458.1 354.9,458.9 357.5,459.4 360.0,458.9 360.0,469.9 358.3,469.1 356.6,467.4 355.8,464.9 356.6,462.3 354.9,461.5 353.2,460.6 350.7,460.6 348.1,459.8 345.6,459.4"/>
<polygon fill="url(#pf)" points="348.1,469.9 349.8,468.2 352.4,465.7 354.9,464.9 357.5,467.4 360.0,469.9 360.0,488.6 358.3,486.9 356.6,485.2 354.9,484.3 353.2,483.5 351.5,481.8 349.8,480.1 349.0,478.4 347.3,477.6 345.6,479.3 343.9,481.0 342.2,482.7 340.5,481.8 342.2,479.3 343.9,476.7 344.8,475.0 346.4,473.3 347.3,471.6"/>
<polygon fill="url(#pf)" points="326.1,484.3 328.7,483.9 331.2,484.3 334.6,484.8 338.0,485.2 341.4,486.0 344.8,486.9 347.3,487.7 349.8,488.6 352.4,489.4 354.9,490.3 358.3,489.4 360.0,489.4 360.0,497.1 358.3,495.4 355.8,494.5 353.2,494.5 350.7,495.4 348.1,495.4 346.4,494.5 343.9,492.8 341.4,492.0 338.8,490.7 336.3,489.9 333.7,489.4 331.2,487.7 328.7,486.9 327.0,486.0"/>
<polygon fill="url(#pf)" points="328.7,474.6 331.2,473.8 333.7,472.5 335.4,471.2 336.3,469.5 338.0,469.9 338.4,472.5 338.8,474.6 340.5,476.7 339.7,478.4 337.1,479.3 334.6,478.8 332.0,478.4 329.5,478.0"/>
<polygon fill="url(#pf)" points="353.2,498.8 354.9,497.1 357.5,496.2 360.0,495.8 360.0,504.7 357.5,504.7 354.9,503.0 353.2,501.3"/>
<polygon fill="url(#pf)" points="340.5,504.7 343.1,503.4 346.4,503.8 349.8,504.3 353.2,505.1 353.6,507.2 350.7,507.6 348.1,508.1 345.6,508.9 343.1,508.1 341.4,506.4"/>
<polygon fill="url(#pf)" points="357.5,509.8 360.0,508.1 360.0,514.0 357.5,514.0"/>
<polygon fill="#feb24c" points="310.0,474.6 311.7,474.2 314.2,475.5 316.8,475.9 318.5,477.1 319.3,479.3 321.0,481.0 322.7,482.7 321.9,483.9 320.2,483.1 318.5,481.0 315.9,479.3 314.2,478.0 312.6,476.7 310.9,475.9"/>
<polygon fill="#feb24c" points="300.3,465.3 302.4,465.7 304.5,466.1 306.6,467.8 309.6,468.2 310.0,469.9 307.5,470.8 305.4,470.8 304.1,469.1 302.4,467.8 300.3,466.6"/>
<polygon fill="#e31a1c" points="304.9,464.0 307.0,464.0 307.0,465.7 304.9,465.7"/>
<polygon fill="#e31a1c" points="309.6,464.0 310.9,464.0 310.9,466.6 309.6,466.6"/>
<polygon fill="#e31a1c" points="329.5,492.4 332.0,492.0 333.7,492.8 333.7,494.9 331.2,494.9 329.5,493.7"/>
<polygon fill="#a00026" points="338.8,497.1 343.1,497.1 343.1,498.8 338.8,498.8"/>
<polygon fill="#fd8d3c" points="332.9,496.2 334.6,496.2 336.3,497.9 338.0,499.2 337.5,500.0 335.4,499.6 333.7,497.9"/>
<polygon fill="#e31a1c" points="326.1,478.0 328.2,478.0 328.7,479.7 326.5,479.9"/>
<polygon fill="#e31a1c" points="300.7,453.0 302.8,453.0 302.8,453.8 300.7,453.8"/>
<polygon fill="#e31a1c" points="330.8,456.0 332.0,456.0 332.0,457.2 330.8,457.2"/>
<polygon fill="#fd8d3c" points="332.0,458.9 332.9,458.9 332.9,460.6 332.0,460.6"/>
<polygon fill="#fd8d3c" points="338.0,459.8 339.7,459.8 339.7,461.0 338.0,461.0"/>
<polygon fill="#e31a1c" points="340.1,461.0 342.2,461.0 342.2,462.7 340.1,462.7"/>
<polygon fill="#fd8d3c" points="328.2,470.8 329.1,470.8 329.1,472.1 328.2,472.1"/>
<polygon fill="#fd8d3c" points="324.0,474.2 324.8,474.2 324.8,475.9 324.0,475.9"/>
<polygon fill="#fd8d3c" points="321.0,475.9 321.9,475.9 321.9,477.1 321.0,477.1"/>
<polygon fill="#fd8d3c" points="349.8,481.0 351.1,481.0 351.1,482.7 349.8,482.7"/>
<polygon fill="#e31a1c" points="354.1,486.0 357.5,485.2 357.5,486.9 354.1,487.7"/>
<polygon fill="#e31a1c" points="349.8,486.9 352.0,486.9 352.0,488.6 349.8,488.6"/>
<polygon fill="#fd8d3c" points="349.0,497.1 350.7,497.1 350.7,497.9 349.0,497.9"/>
<polygon fill="#fd8d3c" points="337.1,500.9 338.4,500.9 338.4,502.6 337.1,502.6"/>
<polygon fill="#e31a1c" points="341.8,494.9 343.1,494.9 343.1,495.8 341.8,495.8"/>
<polygon fill="url(#pf)" points="360.0,453.0 421.0,453.0 421.0,514.0 360.0,514.0"/>
<polygon fill="#808080" points="360.0,453.0 389.7,453.0 390.1,456.4 390.5,459.8 393.9,459.4 396.4,458.1 399.0,457.7 401.5,458.1 400.7,460.6 402.4,464.0 399.8,465.7 397.3,466.6 395.6,465.7 393.9,464.9 392.2,465.7 390.5,467.4 388.8,469.1 387.1,469.9 385.4,470.8 382.9,470.8 380.3,471.6 377.8,471.2 375.2,469.9 372.7,469.5 370.2,469.1 368.5,470.4 365.9,470.8 363.4,471.6 360.0,472.5"/>
<polygon fill="#e31a1c" points="371.0,464.0 374.0,464.0 374.0,465.7 371.0,465.7"/>
<polygon fill="#e31a1c" points="379.5,464.0 382.0,464.0 382.0,465.7 379.5,465.7"/>
<polygon fill="#e31a1c" points="387.1,463.2 389.7,463.2 389.7,464.9 387.1,464.9"/>
<polygon fill="#e31a1c" points="361.7,453.8 363.4,453.8 363.4,455.5 361.7,455.5"/>
<polygon fill="#e31a1c" points="365.1,453.0 366.8,453.0 366.8,453.8 365.1,453.8"/>
<polygon fill="#fd8d3c" points="361.7,457.2 363.8,457.2 363.8,458.9 361.7,458.9"/>
<polygon fill="#fd8d3c" points="360.0,460.6 362.1,460.2 362.1,462.3 360.0,462.7"/>
<polygon fill="#bd0026" points="379.9,458.1 381.2,458.1 381.2,462.3 379.9,462.3"/>
<polygon fill="#e31a1c" points="384.6,456.0 385.8,456.0 385.8,457.2 384.6,457.2"/>
<polygon fill="#e31a1c" points="387.1,455.1 388.8,455.1 388.8,456.8 387.1,456.8"/>
<polygon fill="#fc4e2a" points="375.2,466.6 378.6,467.0 378.6,469.1 375.2,469.1"/>
<polygon fill="#e31a1c" points="368.0,465.7 369.3,465.7 369.3,467.4 368.0,467.4"/>
<polygon fill="#e31a1c" points="393.9,460.2 396.4,459.8 397.3,462.3 394.7,463.2"/>
<polygon fill="#808080" points="360.0,476.7 361.7,475.9 364.2,477.1 366.8,478.4 368.5,479.3 370.2,480.1 371.0,481.8 372.7,483.5 374.4,485.2 376.1,486.9 375.2,488.6 372.7,489.4 370.2,490.3 368.5,492.0 366.8,493.7 365.1,495.4 363.4,496.2 361.7,495.4 360.0,495.4"/>
<polygon fill="#e31a1c" points="362.5,480.1 365.1,480.1 365.1,481.8 362.5,481.8"/>
<polygon fill="#fc4e2a" points="366.8,481.8 368.5,481.8 368.5,483.5 366.8,483.5"/>
<polygon fill="#e31a1c" points="363.4,486.9 365.1,486.0 365.9,488.6 364.2,489.4"/>
<polygon fill="#fc4e2a" points="368.5,485.2 370.2,485.2 370.2,486.9 368.5,486.9"/>
<polygon fill="#808080" points="360.0,503.0 362.5,502.1 365.1,503.0 367.6,503.8 370.2,505.5 372.7,507.2 375.2,508.1 377.8,508.9 380.3,508.1 382.9,507.6 385.4,507.2 388.0,508.1 390.5,508.9 393.0,510.6 395.6,512.3 397.3,514.0 360.0,514.0"/>
<polygon fill="#e31a1c" points="360.0,507.2 363.4,508.1 364.2,511.5 361.7,512.3 360.0,512.3"/>
<polygon fill="#e31a1c" points="372.7,510.6 375.2,510.6 375.2,512.3 372.7,512.3"/>
<polygon fill="#808080" points="378.6,482.2 380.3,482.2 380.3,483.5 378.6,483.5"/>
<polygon fill="#808080" points="395.6,477.6 397.3,477.6 397.3,479.3 395.6,479.3"/>
<polygon fill="#808080" points="399.0,478.4 400.7,478.4 400.7,480.1 399.0,480.1"/>
<polygon fill="#808080" points="410.8,460.6 412.5,460.6 412.5,462.3 410.8,462.3"/>
<polygon fill="#808080" points="404.5,467.4 406.2,467.4 406.2,468.7 404.5,468.7"/>
<polygon fill="#a00026" points="366.8,500.4 371.0,500.4 373.6,502.1 372.7,504.7 368.5,504.7 366.8,503.0"/>
<polygon fill="#e31a1c" points="352.8,514.8 354.9,514.8 354.9,517.0 352.8,517.0"/>
<polygon fill="#fc4e2a" points="353.2,517.8 354.9,517.8 354.9,518.7 353.2,518.7"/>
<polygon fill="#fc4e2a" points="354.1,519.9 355.8,519.9 355.8,520.9 354.1,520.9"/>
<polygon fill="#fc4e2a" points="354.1,522.9 356.6,522.9 357.0,525.0 354.9,525.0"/>
<polygon fill="#fc6c33" points="357.0,519.1 358.3,517.8 360.0,517.0 360.0,522.0 358.3,522.0 357.3,520.8"/>
<polygon fill="#fc4e2a" points="359.2,522.9 360.0,522.9 360.0,525.0 359.2,525.0"/>
<polygon fill="#e31a1c" points="357.9,528.4 359.2,527.1 360.0,527.1 360.0,531.8 358.7,531.8 357.9,530.1"/>
<polygon fill="url(#pf)" points="360.0,514.0 367.6,514.0 367.6,515.7 365.1,516.5 363.4,518.2 362.5,519.9 365.1,520.8 367.6,521.6 370.2,522.5 371.9,524.2 373.6,523.3 375.2,520.8 374.4,519.1 371.9,518.2 373.6,516.5 374.8,514.8 375.2,514.0 388.0,514.0 387.1,516.5 386.3,519.1 388.0,520.8 389.7,521.6 388.8,523.3 386.3,525.0 383.7,525.9 381.2,525.4 378.6,525.9 376.9,526.7 374.4,527.6 371.9,528.0 369.3,527.6 367.6,526.7 365.9,527.6 365.1,530.1 366.8,531.4 368.5,531.8 366.8,532.6 364.7,533.1 363.4,534.8 361.7,533.5 360.8,531.8 360.0,530.9"/>
<polygon fill="#bd0026" points="361.3,528.4 363.8,528.0 365.9,529.7 366.4,532.2 363.8,532.8 361.7,531.8"/>
<polygon fill="#feb24c" points="364.2,525.9 366.4,525.9 366.4,527.6 364.2,527.6"/>
<polygon fill="#feb24c" points="376.1,524.6 378.2,524.2 378.2,525.9 376.1,525.9"/>
<polygon fill="url(#pf)" points="397.3,514.0 421.0,514.0 421.0,520.8 418.5,521.2 415.1,521.6 414.2,522.5 412.5,521.6 409.1,520.8 407.4,520.8 405.8,522.5 404.1,523.3 402.4,522.5 401.5,520.8 400.7,518.2 399.0,515.7"/>
<polygon fill="url(#pf)" points="395.6,523.7 399.0,523.3 402.4,522.9 404.9,523.3 406.6,525.0 408.3,526.7 407.4,528.4 410.8,529.2 412.5,530.9 410.8,532.2 407.4,532.6 404.1,532.2 401.5,533.1 399.0,533.9 397.3,534.8 395.6,534.8 395.2,532.2 396.0,530.1 395.6,527.6 395.2,525.4"/>
<polygon fill="#fc4e2a" points="382.0,528.0 384.6,528.0 384.6,529.2 382.0,529.2"/>
<polygon fill="#e31a1c" points="387.1,529.2 388.8,529.2 388.8,530.9 387.1,530.9"/>
<polygon fill="#fc4e2a" points="388.0,526.3 389.7,526.3 390.1,527.6 388.4,528.0"/>
<polygon fill="#fd8d3c" points="391.3,524.2 393.0,524.2 393.0,526.7 391.3,526.7"/>
<polygon fill="#fc4e2a" points="393.0,522.0 394.3,522.0 394.3,523.3 393.0,523.3"/>
<polygon fill="#e31a1c" points="371.9,535.2 373.1,535.2 373.1,536.9 371.9,536.9"/>
<polygon fill="#fd8d3c" points="374.4,535.2 376.9,535.2 376.9,536.9 375.2,537.3 374.4,536.5"/>
<polygon fill="#fd8d3c" points="363.8,536.9 365.9,536.5 367.6,538.1 366.4,539.8 364.2,539.0"/>
<polygon fill="#fd8d3c" points="370.2,538.1 371.0,538.1 371.0,539.0 370.2,539.0"/>
<polygon fill="#e31a1c" points="415.1,530.1 416.1,530.1 416.1,531.8 415.1,531.8"/>
<polygon fill="#e31a1c" points="418.5,525.9 420.2,525.9 420.2,528.0 418.5,528.0"/>
<polygon fill="#feb24c" points="418.0,557.2 420.2,555.9 421.0,555.9 421.0,561.0 419.3,561.0 418.5,559.3"/>
<polygon fill="#fed976" points="407.9,573.7 409.1,573.7 409.1,575.0 407.9,575.0"/>
<polygon fill="#fed480" points="404.0,598.3 406.6,597.4 410.0,596.6 413.5,595.7 415.2,594.0 417.8,592.7 419.5,591.8 422.1,591.4 422.1,644.0 414.4,644.0 413.5,640.6 411.8,637.1 410.0,633.7 409.2,630.2 407.9,626.8 406.6,623.3 405.3,619.9 404.0,616.4 402.7,613.0 402.3,609.5 402.3,605.2 403.1,603.5 404.9,602.6 405.7,600.9 404.4,600.0"/>
<polygon fill="url(#sp_w1_35)" points="403.1,604.3 406.6,603.5 408.3,607.8 405.7,611.2 403.1,609.5"/>
<polygon fill="url(#sp_w1_30)" points="408.3,600.9 422.1,600.9 422.1,644.0 414.4,644.0 411.8,637.1 410.0,633.7 409.2,630.2 408.3,626.8"/>
<polygon fill="#808080" points="408.3,600.0 410.9,599.6 410.9,603.5 409.2,603.9"/>
<polygon fill="#808080" points="416.1,615.6 418.7,615.1 419.5,618.1 417.8,621.6 416.1,620.7"/>
<polygon fill="#e31a1c" points="416.9,630.2 419.5,628.5 421.0,630.2 419.5,633.7 417.8,632.8"/>
<polygon fill="#e31a1c" points="417.8,618.1 420.4,618.1 420.4,621.6 418.7,621.6"/>
<polygon fill="#fc4e2a" points="408.3,603.9 410.0,603.9 410.0,605.2 408.3,605.2"/>
<polygon fill="#fed480" points="404.0,575.0 407.9,575.0 407.9,578.9 404.4,578.9"/>
<polygon fill="#fed480" points="395.8,586.2 397.1,585.8 397.3,588.8 395.4,589.0"/>
<polygon fill="#fed480" points="397.1,590.1 400.6,589.2 403.6,589.2 403.8,591.8 400.6,591.8 397.3,591.8"/>
<polygon fill="#fed480" points="404.9,590.1 405.7,590.1 405.7,591.8 404.9,591.8"/>
<polygon fill="#fed480" points="410.0,589.2 413.5,589.2 413.9,591.0 412.2,591.8 410.5,591.0"/>
<polygon fill="#fed480" points="420.0,589.2 421.0,589.2 421.0,591.0 420.0,591.0"/>
<polygon fill="#fd8d3c" points="394.9,593.1 396.2,592.7 396.2,594.0 394.9,594.0"/>
<polygon fill="#a00026" points="396.2,592.7 398.0,592.7 398.0,594.0 396.2,594.0"/>
<polygon fill="#fed480" points="395.8,594.4 398.0,594.0 398.8,595.3 397.1,597.9 395.8,597.6"/>
<polygon fill="#feb24c" points="398.8,600.9 399.9,600.9 399.9,602.6 398.8,602.6"/>
<polygon fill="#fc4e2a" points="399.9,603.0 400.7,603.0 400.7,603.9 399.9,603.9"/>
<polygon fill="#808080" points="320.0,436.0 390.0,436.0 390.0,506.0 320.0,506.0"/>
<polygon fill="url(#pf)" points="344.3,436.0 390.0,436.0 390.0,454.5 380.3,452.5 374.4,450.6 368.6,446.7 360.8,445.7 352.1,441.8"/>
<polygon fill="url(#sp_d1_70)" points="368.6,445.7 374.4,450.6 380.3,452.5 390.0,454.5 390.0,463.2 380.3,459.3 374.4,462.2 370.6,463.2"/>
<polygon fill="url(#sp_R2_22)" points="353.1,445.7 360.8,445.7 368.6,446.7 370.6,463.2 370.6,465.2 360.8,464.2 353.1,455.4"/>
<polygon fill="url(#pf)" points="370.6,463.2 374.4,462.2 380.3,459.3 390.0,457.4 390.0,506.0 352.1,506.0 353.1,494.3 360.8,490.4 370.6,486.6 372.5,482.7 370.6,474.9"/>
<polygon fill="url(#sp_r1_45)" points="343.3,454.5 349.2,453.5 356.9,457.4 361.8,459.3 361.8,464.2 355.0,464.2 347.2,461.3 343.3,458.4"/>
<polygon fill="url(#sp_o1_75)" points="347.2,465.2 355.0,464.2 362.8,465.2 370.6,467.1 370.6,476.8 362.8,476.8 355.0,475.9 347.2,476.8"/>
<polygon fill="url(#sp_o1_55)" points="327.8,471.0 335.6,469.1 347.2,470.0 347.2,480.7 339.4,480.7 331.7,479.8 327.8,476.8"/>
<polygon fill="url(#sp_l1_80)" points="325.8,483.6 333.6,483.6 343.3,484.6 353.1,486.6 353.1,492.4 343.3,492.4 333.6,490.4 325.8,486.6"/>
<polygon fill="url(#sp_r1_60)" points="353.1,476.8 370.6,476.8 370.6,486.6 360.8,490.4 353.1,490.4"/>
<polygon fill="#a00026" points="329.7,492.4 333.6,492.4 333.6,494.3 329.7,494.3"/>
<polygon fill="#a00026" points="338.5,496.8 343.3,496.8 343.3,498.7 338.5,498.7"/>
<polygon fill="url(#sp_r1_30)" points="339.4,502.1 345.3,502.1 345.3,506.0 339.4,506.0"/>
<polygon fill="#fc4e2a" points="323.9,451.6 325.8,451.6 325.8,453.0 323.9,453.0"/>
<polygon fill="#e31a1c" points="326.8,442.8 328.3,442.8 328.3,444.8 326.8,444.8"/>
<polygon fill="#e31a1c" points="363.8,451.6 366.7,451.6 366.7,453.5 363.8,453.5"/>
<polygon fill="#e31a1c" points="361.8,456.4 363.8,456.4 363.8,458.8 361.8,458.8"/>
<polygon fill="#e31a1c" points="370.6,464.2 374.0,464.2 374.0,465.7 370.6,465.7"/>
<polygon fill="#bd0026" points="379.3,458.4 381.2,458.4 381.2,462.2 379.3,462.2"/>
<polygon fill="#e31a1c" points="320.0,480.7 322.9,480.7 322.9,483.6 320.0,483.6"/>
<polygon fill="#fd8d3c" points="320.0,474.9 321.9,474.9 321.9,476.8 320.0,476.8"/>
<polygon fill="#808080" points="340.0,506.0 421.0,506.0 421.0,545.0 340.0,545.0"/>
<polygon fill="url(#pf)" points="353.5,500.0 421.0,500.0 421.0,521.4 414.2,521.9 407.5,519.1 400.8,515.8 396.2,511.2 389.5,509.0 382.8,507.9 377.1,509.0 373.8,511.2 369.2,509.0 365.9,506.8 362.5,504.5 356.9,503.4 353.5,502.2"/>
<polygon fill="url(#sp_r1_60)" points="340.0,504.5 344.5,503.4 349.0,503.9 352.4,505.1 351.2,507.9 346.8,508.4 342.2,507.9 340.0,506.2"/>
<polygon fill="url(#sp_r1_75)" points="356.9,510.1 360.2,508.4 364.8,510.1 368.1,512.4 373.8,513.5 377.1,512.4 382.8,512.4 387.2,513.5 388.4,516.9 389.5,522.5 387.2,525.9 381.6,527.0 377.1,527.6 372.6,528.1 368.1,528.1 364.8,530.4 362.5,533.8 360.2,532.6 358.0,529.2 359.1,524.8 358.0,521.4 357.4,516.9"/>
<polygon fill="#feb24c" points="363.6,525.9 368.1,525.9 368.1,528.1 363.6,528.1"/>
<polygon fill="#feb24c" points="376.0,523.6 379.4,523.6 379.4,526.4 376.0,526.4"/>
<polygon fill="#a00026" points="361.4,528.7 367.0,529.2 367.0,533.8 362.5,533.8"/>
<polygon fill="url(#sp_r1_80)" points="395.1,522.5 400.8,521.4 405.2,523.6 407.5,525.9 410.9,529.2 413.1,531.5 409.8,532.6 403.0,532.6 398.5,533.8 395.1,532.6 396.2,528.1"/>
<polygon fill="#fc4e2a" points="353.5,514.6 355.2,514.6 355.2,516.9 353.5,516.9"/>
<polygon fill="#fc4e2a" points="354.1,522.5 356.9,522.5 356.9,524.2 354.1,524.2"/>
<polygon fill="#fd8d3c" points="363.6,537.1 367.6,537.1 367.6,539.9 363.6,539.9"/>
<polygon fill="#fc4e2a" points="371.5,534.9 377.1,534.9 377.1,537.1 371.5,537.1"/>
<polygon fill="#fc4e2a" points="381.6,527.0 385.0,527.0 385.0,528.7 381.6,528.7"/>
<polygon fill="#fc4e2a" points="387.2,529.2 389.5,529.2 389.5,530.4 387.2,530.4"/>
<polygon fill="#fc4e2a" points="391.2,523.6 392.9,523.6 392.9,526.4 391.2,526.4"/>
<polygon fill="#fc4e2a" points="417.6,525.9 419.9,525.9 419.9,527.6 417.6,527.6"/>
<polygon fill="#fc4e2a" points="414.2,529.8 416.5,529.8 416.5,531.5 414.2,531.5"/>
</g>
<g fill="#000">
<rect x="298" y="25" width="124" height="1"/>
<rect x="298" y="644" width="124" height="1"/>
<rect x="298" y="25" width="1" height="620"/>
<rect x="421" y="25" width="1" height="620"/>
<rect x="291" y="644" width="7" height="1"/>
<rect x="295" y="624" width="3" height="1"/>
<rect x="295" y="603" width="3" height="1"/>
<rect x="295" y="583" width="3" height="1"/>
<rect x="295" y="562" width="3" height="1"/>
<rect x="291" y="541" width="7" height="1"/>
<rect x="295" y="521" width="3" height="1"/>
<rect x="295" y="500" width="3" height="1"/>
<rect x="295" y="479" width="3" height="1"/>
<rect x="295" y="459" width="3" height="1"/>
<rect x="291" y="438" width="7" height="1"/>
<rect x="295" y="417" width="3" height="1"/>
<rect x="295" y="397" width="3" height="1"/>
<rect x="295" y="376" width="3" height="1"/>
<rect x="295" y="356" width="3" height="1"/>
<rect x="291" y="335" width="7" height="1"/>
<rect x="295" y="314" width="3" height="1"/>
<rect x="295" y="294" width="3" height="1"/>
<rect x="295" y="273" width="3" height="1"/>
<rect x="295" y="252" width="3" height="1"/>
<rect x="291" y="232" width="7" height="1"/>
<rect x="295" y="211" width="3" height="1"/>
<rect x="295" y="190" width="3" height="1"/>
<rect x="295" y="170" width="3" height="1"/>
<rect x="295" y="149" width="3" height="1"/>
<rect x="291" y="129" width="7" height="1"/>
<rect x="295" y="108" width="3" height="1"/>
<rect x="295" y="87" width="3" height="1"/>
<rect x="295" y="67" width="3" height="1"/>
<rect x="295" y="46" width="3" height="1"/>
<rect x="291" y="25" width="7" height="1"/>
<rect x="298" y="644" width="1" height="4"/>
<rect x="318" y="644" width="1" height="4"/>
<rect x="339" y="644" width="1" height="4"/>
<rect x="359" y="644" width="1" height="7"/>
<rect x="380" y="644" width="1" height="4"/>
<rect x="401" y="644" width="1" height="4"/>
<rect x="421" y="644" width="1" height="4"/>
</g></svg>
<div class="rot" style="left:264.8px;top:636.5px">0&deg;</div>
<div class="rot" style="left:264.8px;top:533.5px">5&deg;</div>
<div class="rot" style="left:264.8px;top:430.5px">10&deg;</div>
<div class="rot" style="left:264.8px;top:327.5px">15&deg;</div>
<div class="rot" style="left:264.8px;top:224.5px">20&deg;</div>
<div class="rot" style="left:264.8px;top:121.5px">25&deg;</div>
<div class="rot" style="left:264.8px;top:17.5px">30&deg;</div>
<div class="lab" style="left:339.5px;top:654px;width:40px;text-align:center;transform:scaleX(1.16)">-25&deg;</div>
<div id="legend"></div>
<svg class="a" style="left:0;top:0" width="720" height="800" viewBox="0 0 720 800" shape-rendering="crispEdges">
<rect x="48" y="692" width="16" height="18" fill="#fffed8"/>
<rect x="64" y="692" width="16" height="18" fill="#fff8c2"/>
<rect x="80" y="692" width="16" height="18" fill="#fff4b6"/>
<rect x="96" y="692" width="16" height="18" fill="#fff1ac"/>
<rect x="112" y="692" width="16" height="18" fill="#ffeca2"/>
<rect x="128" y="692" width="16" height="18" fill="#ffeda0"/>
<rect x="144" y="692" width="16" height="18" fill="#ffe997"/>
<rect x="160" y="692" width="16" height="18" fill="#ffe58f"/>
<rect x="176" y="692" width="16" height="18" fill="#fee085"/>
<rect x="192" y="692" width="16" height="18" fill="#fedc7c"/>
<rect x="208" y="692" width="16" height="18" fill="#fed774"/>
<rect x="224" y="692" width="16" height="18" fill="#fecf6b"/>
<rect x="240" y="692" width="16" height="18" fill="#fec863"/>
<rect x="256" y="692" width="16" height="18" fill="#febf5a"/>
<rect x="272" y="692" width="16" height="18" fill="#feb852"/>
<rect x="288" y="692" width="16" height="18" fill="#feaf4b"/>
<rect x="304" y="692" width="16" height="18" fill="#fea747"/>
<rect x="320" y="692" width="16" height="18" fill="#fea044"/>
<rect x="336" y="692" width="16" height="18" fill="#fd9841"/>
<rect x="352" y="692" width="16" height="18" fill="#fd913e"/>
<rect x="368" y="692" width="16" height="18" fill="#fd863a"/>
<rect x="384" y="692" width="16" height="18" fill="#fd7a37"/>
<rect x="400" y="692" width="16" height="18" fill="#fc6c33"/>
<rect x="416" y="692" width="16" height="18" fill="#fc612f"/>
<rect x="432" y="692" width="16" height="18" fill="#fc532b"/>
<rect x="448" y="692" width="16" height="18" fill="#f84628"/>
<rect x="464" y="692" width="16" height="18" fill="#f43d25"/>
<rect x="480" y="692" width="16" height="18" fill="#ee3122"/>
<rect x="496" y="692" width="16" height="18" fill="#e92720"/>
<rect x="512" y="692" width="16" height="18" fill="#e41c1d"/>
<rect x="528" y="692" width="16" height="18" fill="#dd161d"/>
<rect x="544" y="692" width="16" height="18" fill="#d51020"/>
<rect x="560" y="692" width="16" height="18" fill="#cd0b22"/>
<rect x="576" y="692" width="16" height="18" fill="#c50624"/>
<rect x="592" y="692" width="16" height="18" fill="#bd0026"/>
<rect x="608" y="692" width="16" height="18" fill="#b20026"/>
<rect x="624" y="692" width="16" height="18" fill="#a40026"/>
<rect x="640" y="692" width="16" height="18" fill="#990026"/>
<rect x="656" y="692" width="16" height="18" fill="#8b0026"/>
<rect x="672" y="692" width="17" height="18" fill="#800026"/>
<rect x="48" y="710" width="1" height="4" fill="#000"/>
<rect x="64" y="710" width="1" height="4" fill="#000"/>
<rect x="80" y="710" width="1" height="4" fill="#000"/>
<rect x="96" y="710" width="1" height="4" fill="#000"/>
<rect x="112" y="710" width="1" height="4" fill="#000"/>
<rect x="128" y="710" width="1" height="4" fill="#000"/>
<rect x="144" y="710" width="1" height="4" fill="#000"/>
<rect x="160" y="710" width="1" height="4" fill="#000"/>
<rect x="176" y="710" width="1" height="4" fill="#000"/>
<rect x="192" y="710" width="1" height="4" fill="#000"/>
<rect x="208" y="710" width="1" height="4" fill="#000"/>
<rect x="224" y="710" width="1" height="4" fill="#000"/>
<rect x="240" y="710" width="1" height="4" fill="#000"/>
<rect x="256" y="710" width="1" height="4" fill="#000"/>
<rect x="272" y="710" width="1" height="4" fill="#000"/>
<rect x="288" y="710" width="1" height="4" fill="#000"/>
<rect x="304" y="710" width="1" height="4" fill="#000"/>
<rect x="320" y="710" width="1" height="4" fill="#000"/>
<rect x="336" y="710" width="1" height="4" fill="#000"/>
<rect x="352" y="710" width="1" height="4" fill="#000"/>
<rect x="368" y="710" width="1" height="4" fill="#000"/>
<rect x="384" y="710" width="1" height="4" fill="#000"/>
<rect x="400" y="710" width="1" height="4" fill="#000"/>
<rect x="416" y="710" width="1" height="4" fill="#000"/>
<rect x="432" y="710" width="1" height="4" fill="#000"/>
<rect x="448" y="710" width="1" height="4" fill="#000"/>
<rect x="464" y="710" width="1" height="4" fill="#000"/>
<rect x="480" y="710" width="1" height="4" fill="#000"/>
<rect x="496" y="710" width="1" height="4" fill="#000"/>
<rect x="512" y="710" width="1" height="4" fill="#000"/>
<rect x="528" y="710" width="1" height="4" fill="#000"/>
<rect x="544" y="710" width="1" height="4" fill="#000"/>
<rect x="560" y="710" width="1" height="4" fill="#000"/>
<rect x="576" y="710" width="1" height="4" fill="#000"/>
<rect x="592" y="710" width="1" height="4" fill="#000"/>
<rect x="608" y="710" width="1" height="4" fill="#000"/>
<rect x="624" y="710" width="1" height="4" fill="#000"/>
<rect x="640" y="710" width="1" height="4" fill="#000"/>
<rect x="656" y="710" width="1" height="4" fill="#000"/>
<rect x="672" y="710" width="1" height="4" fill="#000"/>
<rect x="688" y="710" width="1" height="4" fill="#000"/>
</svg>
<div class="lab" style="left:47.0px;top:715px;width:40px;margin-left:-20px;text-align:center;transform:scaleX(1.09)">0</div>
<div class="lab" style="left:111.0px;top:715px;width:40px;margin-left:-20px;text-align:center;transform:scaleX(1.09)">0.1</div>
<div class="lab" style="left:175.0px;top:715px;width:40px;margin-left:-20px;text-align:center;transform:scaleX(1.09)">0.2</div>
<div class="lab" style="left:239.0px;top:715px;width:40px;margin-left:-20px;text-align:center;transform:scaleX(1.09)">0.3</div>
<div class="lab" style="left:303.0px;top:715px;width:40px;margin-left:-20px;text-align:center;transform:scaleX(1.09)">0.4</div>
<div class="lab" style="left:367.0px;top:715px;width:40px;margin-left:-20px;text-align:center;transform:scaleX(1.09)">0.5</div>
<div class="lab" style="left:431.0px;top:715px;width:40px;margin-left:-20px;text-align:center;transform:scaleX(1.09)">0.6</div>
<div class="lab" style="left:495.0px;top:715px;width:40px;margin-left:-20px;text-align:center;transform:scaleX(1.09)">0.7</div>
<div class="lab" style="left:559.0px;top:715px;width:40px;margin-left:-20px;text-align:center;transform:scaleX(1.09)">0.8</div>
<div class="lab" style="left:623.0px;top:715px;width:40px;margin-left:-20px;text-align:center;transform:scaleX(1.09)">0.9</div>
<div class="lab" style="left:687.0px;top:715px;width:40px;margin-left:-20px;text-align:center;transform:scaleX(1.09)">1</div>
<div class="t" style="top:734px;font-weight:bold;transform:scaleX(1.232)">ABI L2+ Aerosol Optical Depth at 550 nm (1)</div>
<div class="t" style="top:745px;transform:scaleX(1.157)">Experimental NRT AOD 4 hour composite created from ABI L2 data from GOES-19. Fields generated by Atlantic</div>
<div class="t" style="top:756px;transform:scaleX(1.091)">OceanWatch node at NOAA/AOML</div>
<div class="t" style="top:767px;transform:scaleX(1.160)">(2026-02-01T10:00:00Z)</div>
<div class="t" style="top:778px;transform:scaleX(1.076)">Data courtesy of USDOC/NOAA/OAR/AOML/PHOD</div>
</body></html>
